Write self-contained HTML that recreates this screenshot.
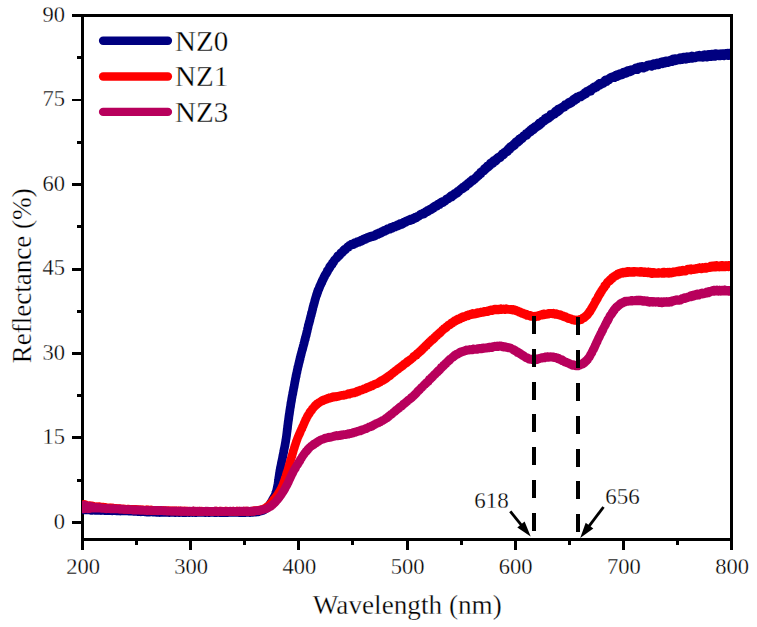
<!DOCTYPE html>
<html lang="en"><head><meta charset="utf-8"><title>Reflectance vs Wavelength</title>
<style>html,body{margin:0;padding:0;background:#fff}svg{display:block}text{font-family:"Liberation Serif","Times New Roman",serif;fill:#000;stroke:#fff;stroke-width:.3px}</style></head><body>
<svg width="757" height="627" viewBox="0 0 757 627">
<rect width="757" height="627" fill="#fff"/>
<g fill="#000" shape-rendering="crispEdges">
<rect x="81" y="14" width="652" height="3"/>
<rect x="81" y="538" width="652" height="3"/>
<rect x="81" y="14" width="3" height="527"/>
<rect x="730" y="14" width="3" height="527"/>
<rect x="72" y="521" width="9" height="3"/>
<rect x="72" y="436" width="9" height="3"/>
<rect x="72" y="352" width="9" height="3"/>
<rect x="72" y="268" width="9" height="3"/>
<rect x="72" y="183" width="9" height="3"/>
<rect x="72" y="99" width="9" height="2"/>
<rect x="72" y="14" width="9" height="3"/>
<rect x="77" y="479" width="4" height="3"/>
<rect x="77" y="394" width="4" height="3"/>
<rect x="77" y="310" width="4" height="3"/>
<rect x="77" y="225" width="4" height="3"/>
<rect x="77" y="141" width="4" height="3"/>
<rect x="77" y="56" width="4" height="3"/>
<rect x="81" y="541" width="3" height="9"/>
<rect x="189" y="541" width="3" height="9"/>
<rect x="297" y="541" width="3" height="9"/>
<rect x="406" y="541" width="3" height="9"/>
<rect x="514" y="541" width="3" height="9"/>
<rect x="622" y="541" width="3" height="9"/>
<rect x="730" y="541" width="3" height="9"/>
<rect x="135" y="541" width="3" height="4"/>
<rect x="243" y="541" width="3" height="4"/>
<rect x="351" y="541" width="3" height="4"/>
<rect x="460" y="541" width="3" height="4"/>
<rect x="568" y="541" width="3" height="4"/>
<rect x="676" y="541" width="3" height="4"/>
</g>
<defs><clipPath id="c"><rect x="82" y="17" width="648" height="521"/></clipPath></defs>
<g clip-path="url(#c)" fill="none" stroke-linejoin="round" stroke-linecap="butt">
<path stroke="#000080" stroke-width="8.7" d="M82.5,509.0 L83.9,510.0 L84.1,508.2 L84.3,510.0 L84.5,508.7 L84.8,508.9 L85.0,509.8 L85.3,509.0 L85.6,509.3 L85.9,508.4 L86.2,509.7 L86.5,509.4 L86.8,509.1 L87.1,509.9 L87.4,509.1 L87.8,509.4 L88.1,509.0 L88.4,509.4 L88.8,509.2 L89.1,509.3 L89.5,509.9 L89.8,509.4 L90.2,509.7 L90.5,510.3 L90.8,510.3 L91.2,510.0 L91.5,509.8 L91.9,509.6 L92.2,509.5 L92.6,510.3 L92.9,509.9 L93.3,509.6 L93.6,510.0 L94.0,510.2 L94.3,510.1 L94.7,510.3 L95.0,509.6 L95.4,510.0 L95.7,510.0 L96.1,509.7 L96.4,510.2 L96.8,510.3 L97.1,510.2 L97.5,510.0 L97.8,510.4 L98.2,510.2 L98.5,510.2 L98.9,510.3 L99.2,510.0 L99.6,510.4 L99.9,510.3 L100.3,510.4 L100.6,510.1 L101.0,510.4 L101.3,510.1 L101.7,510.1 L102.0,510.5 L102.4,510.5 L102.7,510.5 L103.1,510.3 L103.4,510.2 L103.8,510.1 L104.1,510.4 L104.5,510.5 L104.8,510.6 L105.2,510.3 L105.5,510.3 L105.9,510.5 L106.2,510.6 L106.6,510.7 L106.9,510.3 L107.3,510.5 L107.6,510.7 L108.0,510.5 L108.3,510.5 L108.7,510.3 L109.0,510.6 L109.4,510.7 L109.7,510.7 L110.1,510.7 L110.4,510.6 L110.8,510.5 L111.1,510.7 L111.5,510.5 L111.8,510.7 L112.2,510.4 L112.5,510.7 L112.9,510.5 L113.2,510.6 L113.6,510.6 L113.9,510.7 L114.3,510.5 L114.6,510.6 L115.0,510.5 L115.3,510.6 L115.7,510.7 L116.0,510.5 L116.4,510.8 L116.7,510.7 L117.1,510.8 L117.4,510.8 L117.8,510.7 L118.1,510.9 L118.5,510.8 L118.8,510.9 L119.2,510.7 L119.5,510.8 L119.9,510.7 L120.2,511.0 L120.6,510.7 L120.9,510.7 L121.3,510.7 L121.6,510.7 L122.0,510.9 L122.3,510.9 L122.7,510.7 L123.0,510.8 L123.4,510.9 L123.7,511.0 L124.1,510.9 L124.4,510.9 L124.8,511.0 L125.1,511.0 L125.5,510.9 L125.8,510.9 L126.2,510.9 L126.5,510.8 L126.9,510.9 L127.2,510.9 L127.6,510.9 L127.9,510.9 L128.3,511.0 L128.6,511.2 L129.0,511.1 L129.3,511.2 L129.7,511.2 L130.0,511.1 L130.4,511.2 L130.7,511.2 L131.1,511.1 L131.4,511.0 L131.8,511.1 L132.1,511.0 L132.5,511.0 L132.8,511.2 L133.2,511.3 L133.5,511.1 L133.9,511.3 L134.2,511.2 L134.6,511.1 L134.9,511.4 L135.3,511.2 L135.6,511.2 L136.0,511.4 L136.3,511.2 L136.7,511.4 L137.0,511.2 L137.4,511.3 L137.7,511.3 L138.1,511.5 L138.4,511.3 L138.8,511.6 L139.1,511.5 L139.5,511.5 L139.8,511.5 L140.2,511.4 L140.5,511.4 L140.9,511.7 L141.2,511.4 L141.6,511.7 L141.9,511.6 L142.3,511.5 L142.6,511.6 L143.0,511.5 L143.3,511.6 L143.7,511.6 L144.0,511.4 L144.4,511.6 L144.7,511.8 L145.1,511.6 L145.4,511.8 L145.8,511.7 L146.1,511.6 L146.5,511.9 L146.8,511.6 L147.2,511.7 L147.5,512.0 L147.9,511.7 L148.2,511.9 L148.6,511.9 L148.9,512.0 L149.3,511.9 L149.6,511.8 L150.0,512.0 L150.3,511.7 L150.7,511.9 L151.0,511.9 L151.4,511.9 L151.7,511.8 L152.1,511.9 L152.4,512.0 L152.8,512.0 L153.1,512.1 L153.5,512.1 L153.8,512.2 L154.2,512.1 L154.5,512.1 L154.9,512.0 L155.2,512.2 L155.6,512.0 L155.9,512.0 L156.3,512.3 L156.6,512.2 L157.0,512.2 L157.3,512.2 L157.7,512.2 L158.0,512.0 L158.4,512.1 L158.7,512.3 L159.1,512.2 L159.4,512.1 L159.8,512.4 L160.1,512.1 L160.5,512.3 L160.8,512.1 L161.2,512.3 L161.5,512.2 L161.9,512.2 L162.2,512.1 L162.6,512.2 L162.9,512.2 L163.3,512.3 L163.6,512.3 L164.0,512.5 L164.3,512.5 L164.7,512.5 L165.0,512.4 L165.4,512.5 L165.7,512.5 L166.0,512.2 L166.4,512.2 L166.7,512.3 L167.1,512.2 L167.4,512.4 L167.8,512.3 L168.1,512.3 L168.5,512.3 L168.8,512.2 L169.2,512.5 L169.5,512.4 L169.9,512.4 L170.2,512.2 L170.6,512.4 L170.9,512.5 L171.3,512.3 L171.6,512.4 L172.0,512.2 L172.3,512.2 L172.7,512.3 L173.0,512.4 L173.4,512.4 L173.7,512.5 L174.1,512.3 L174.4,512.2 L174.8,512.5 L175.1,512.2 L175.5,512.3 L175.8,512.6 L176.2,512.5 L176.5,512.3 L176.9,512.3 L177.2,512.4 L177.6,512.3 L177.9,512.5 L178.3,512.4 L178.6,512.2 L179.0,512.6 L179.3,512.4 L179.7,512.3 L180.0,512.3 L180.4,512.4 L180.7,512.3 L181.1,512.4 L181.4,512.4 L181.8,512.2 L182.1,512.5 L182.5,512.5 L182.8,512.6 L183.2,512.5 L183.5,512.5 L183.9,512.3 L184.2,512.2 L184.6,512.2 L184.9,512.6 L185.3,512.5 L185.6,512.6 L186.0,512.3 L186.3,512.5 L186.7,512.2 L187.0,512.3 L187.4,512.3 L187.7,512.4 L188.1,512.4 L188.4,512.4 L188.8,512.4 L189.1,512.4 L189.5,512.6 L189.8,512.4 L190.2,512.5 L190.5,512.2 L190.9,512.4 L191.2,512.4 L191.6,512.4 L191.9,512.3 L192.3,512.4 L192.6,512.6 L193.0,512.5 L193.3,512.4 L193.7,512.2 L194.0,512.2 L194.4,512.3 L194.7,512.3 L195.1,512.6 L195.4,512.2 L195.8,512.4 L196.1,512.2 L196.5,512.5 L196.8,512.2 L197.2,512.2 L197.5,512.2 L197.9,512.3 L198.2,512.4 L198.6,512.5 L198.9,512.3 L199.3,512.3 L199.6,512.5 L200.0,512.5 L200.3,512.3 L200.7,512.5 L201.0,512.5 L201.4,512.3 L201.7,512.4 L202.1,512.3 L202.4,512.3 L202.8,512.4 L203.1,512.4 L203.5,512.4 L203.8,512.4 L204.2,512.3 L204.5,512.5 L204.9,512.3 L205.2,512.6 L205.6,512.4 L205.9,512.3 L206.3,512.3 L206.6,512.4 L207.0,512.4 L207.4,512.4 L207.7,512.4 L208.1,512.2 L208.4,512.5 L208.8,512.2 L209.1,512.5 L209.5,512.5 L209.8,512.6 L210.2,512.5 L210.5,512.3 L210.9,512.4 L211.2,512.4 L211.6,512.4 L211.9,512.4 L212.3,512.5 L212.6,512.3 L213.0,512.3 L213.3,512.4 L213.7,512.4 L214.0,512.3 L214.4,512.6 L214.7,512.5 L215.1,512.5 L215.4,512.3 L215.8,512.6 L216.1,512.5 L216.5,512.6 L216.8,512.3 L217.2,512.4 L217.5,512.4 L217.9,512.4 L218.2,512.3 L218.6,512.3 L218.9,512.4 L219.3,512.5 L219.6,512.4 L220.0,512.6 L220.3,512.4 L220.7,512.3 L221.0,512.5 L221.4,512.4 L221.7,512.3 L222.1,512.3 L222.4,512.6 L222.8,512.6 L223.1,512.5 L223.5,512.3 L223.8,512.5 L224.2,512.3 L224.5,512.3 L224.9,512.4 L225.2,512.4 L225.6,512.3 L225.9,512.6 L226.3,512.3 L226.6,512.4 L227.0,512.2 L227.3,512.3 L227.7,512.3 L228.0,512.6 L228.4,512.5 L228.7,512.5 L229.1,512.2 L229.4,512.5 L229.8,512.4 L230.1,512.4 L230.5,512.5 L230.8,512.3 L231.2,512.4 L231.5,512.3 L231.9,512.4 L232.2,512.4 L232.6,512.3 L232.9,512.3 L233.3,512.4 L233.6,512.4 L234.0,512.5 L234.3,512.5 L234.7,512.4 L235.0,512.5 L235.4,512.3 L235.7,512.3 L236.1,512.4 L236.4,512.3 L236.8,512.4 L237.1,512.4 L237.5,512.3 L237.8,512.5 L238.2,512.4 L238.5,512.4 L238.9,512.6 L239.2,512.5 L239.6,512.3 L239.9,512.3 L240.3,512.6 L240.6,512.3 L241.0,512.5 L241.3,512.3 L241.7,512.3 L242.0,512.4 L242.4,512.6 L242.7,512.2 L243.1,512.3 L243.4,512.5 L243.8,512.4 L244.1,512.3 L244.5,512.6 L244.8,512.3 L245.2,512.5 L245.5,512.6 L245.9,512.5 L246.2,512.5 L246.6,512.5 L246.9,512.5 L247.3,512.3 L247.6,512.4 L248.0,512.5 L248.3,512.5 L248.7,512.5 L249.0,512.5 L249.3,512.2 L249.7,512.3 L250.0,512.3 L250.4,512.5 L250.7,512.3 L251.1,512.2 L251.4,512.1 L251.8,512.2 L252.1,512.4 L252.5,512.1 L252.8,512.1 L253.2,512.1 L253.5,512.2 L253.9,512.1 L254.2,512.2 L254.6,512.0 L254.9,512.1 L255.3,512.1 L255.6,512.1 L256.0,512.1 L256.3,511.8 L256.7,512.0 L257.0,511.9 L257.4,511.7 L257.7,511.5 L258.1,511.5 L258.4,511.7 L258.8,511.4 L259.1,511.4 L259.4,511.3 L259.8,511.4 L260.1,511.2 L260.5,511.0 L260.8,511.0 L261.1,510.9 L261.5,511.0 L261.8,510.7 L262.1,510.7 L262.4,510.6 L262.7,510.6 L263.1,510.4 L263.4,510.1 L263.7,510.0 L264.0,509.8 L264.3,509.8 L264.6,509.4 L264.9,509.3 L265.2,509.2 L265.4,508.9 L265.7,508.8 L266.0,508.5 L266.3,508.3 L266.5,508.2 L266.8,507.8 L267.0,507.7 L267.3,507.5 L267.5,507.0 L267.8,506.8 L268.0,506.8 L268.2,506.6 L268.4,506.3 L268.7,505.7 L268.9,505.7 L269.1,505.5 L269.3,505.2 L269.5,504.8 L269.7,504.5 L269.9,504.3 L270.1,503.9 L270.3,503.7 L270.5,503.3 L270.7,502.9 L270.9,502.6 L271.1,502.6 L271.2,502.2 L271.4,501.7 L271.6,501.7 L271.8,501.1 L272.0,501.0 L272.1,500.6 L272.3,500.2 L272.5,499.9 L272.7,499.5 L272.8,499.2 L273.0,498.9 L273.2,498.6 L273.4,498.6 L273.5,498.2 L273.7,497.7 L273.8,497.6 L274.0,497.3 L274.2,496.9 L274.3,496.5 L274.5,496.3 L274.6,496.2 L274.8,495.6 L274.9,495.4 L275.0,495.2 L275.2,494.6 L275.3,494.5 L275.4,494.1 L275.5,493.9 L275.7,493.4 L275.8,493.1 L275.9,492.7 L276.0,492.6 L276.1,492.3 L276.2,491.8 L276.3,491.6 L276.4,491.2 L276.5,490.9 L276.6,490.6 L276.7,490.0 L276.8,490.0 L276.9,489.4 L276.9,489.1 L277.0,488.6 L277.1,488.5 L277.2,488.0 L277.2,487.8 L277.3,487.2 L277.4,486.9 L277.5,486.6 L277.5,486.2 L277.6,485.8 L277.7,485.8 L277.7,485.5 L277.8,484.8 L277.8,484.4 L277.9,484.2 L278.0,483.7 L278.0,483.7 L278.1,483.2 L278.1,482.9 L278.2,482.7 L278.2,482.4 L278.3,482.1 L278.3,481.7 L278.4,481.2 L278.4,480.8 L278.5,480.2 L278.5,479.9 L278.6,479.8 L278.6,479.6 L278.7,479.0 L278.7,478.5 L278.8,478.2 L278.8,478.2 L278.9,477.5 L278.9,477.2 L279.0,476.9 L279.0,476.7 L279.1,476.5 L279.1,475.8 L279.2,475.7 L279.2,475.3 L279.3,474.9 L279.3,474.6 L279.4,474.4 L279.4,473.7 L279.5,473.5 L279.5,473.0 L279.6,472.8 L279.6,472.6 L279.7,472.4 L279.8,471.8 L279.8,471.3 L279.9,471.1 L279.9,470.7 L280.0,470.2 L280.1,470.1 L280.1,469.9 L280.2,469.6 L280.2,469.3 L280.3,468.6 L280.4,468.2 L280.4,467.8 L280.5,467.6 L280.6,467.5 L280.6,466.8 L280.7,466.8 L280.8,466.4 L280.8,465.8 L280.9,465.7 L281.0,465.4 L281.1,465.2 L281.1,464.4 L281.2,464.4 L281.3,464.0 L281.3,463.4 L281.4,463.1 L281.5,463.1 L281.5,462.4 L281.6,462.1 L281.7,462.0 L281.8,461.3 L281.8,461.1 L281.9,460.7 L282.0,460.5 L282.0,460.2 L282.1,459.9 L282.2,459.4 L282.3,459.3 L282.3,458.9 L282.4,458.7 L282.5,458.0 L282.5,457.9 L282.6,457.3 L282.7,456.9 L282.7,456.8 L282.8,456.6 L282.9,456.2 L282.9,455.5 L283.0,455.1 L283.1,455.1 L283.2,454.8 L283.2,454.5 L283.3,453.7 L283.4,453.8 L283.4,453.2 L283.5,452.8 L283.6,452.5 L283.6,452.5 L283.7,452.2 L283.8,451.3 L283.8,451.1 L283.9,451.0 L284.0,450.2 L284.0,449.9 L284.1,449.5 L284.2,449.7 L284.2,449.0 L284.3,448.7 L284.4,448.6 L284.4,448.0 L284.5,447.9 L284.6,447.3 L284.6,446.9 L284.7,446.7 L284.8,446.2 L284.8,445.8 L284.9,445.9 L285.0,445.6 L285.0,445.0 L285.1,444.8 L285.1,444.6 L285.2,443.9 L285.3,443.8 L285.3,443.5 L285.4,442.7 L285.5,442.3 L285.5,442.4 L285.6,442.0 L285.6,441.3 L285.7,441.4 L285.7,441.1 L285.8,440.4 L285.8,440.1 L285.9,439.6 L286.0,439.4 L286.0,438.9 L286.1,438.8 L286.1,438.5 L286.2,438.2 L286.2,437.5 L286.3,437.5 L286.3,437.2 L286.4,436.5 L286.4,436.4 L286.5,436.2 L286.5,435.5 L286.5,435.6 L286.6,435.3 L286.6,434.8 L286.7,434.6 L286.7,433.8 L286.8,433.7 L286.8,433.6 L286.9,432.6 L286.9,432.8 L286.9,432.0 L287.0,432.1 L287.0,431.6 L287.1,431.4 L287.1,430.7 L287.2,430.4 L287.2,430.4 L287.2,429.5 L287.3,429.2 L287.3,429.4 L287.4,429.0 L287.4,428.1 L287.5,428.4 L287.5,427.5 L287.5,427.6 L287.6,427.3 L287.6,426.3 L287.7,425.9 L287.7,425.8 L287.7,425.9 L287.8,425.5 L287.8,424.8 L287.9,424.8 L287.9,424.1 L288.0,423.8 L288.0,423.3 L288.1,423.5 L288.1,423.1 L288.1,422.4 L288.2,421.9 L288.2,422.1 L288.3,421.4 L288.3,420.9 L288.4,420.7 L288.4,420.6 L288.5,420.3 L288.5,419.4 L288.6,419.7 L288.6,419.1 L288.7,418.3 L288.7,418.6 L288.8,418.3 L288.8,417.9 L288.8,416.9 L288.9,416.9 L288.9,416.7 L289.0,416.5 L289.0,415.9 L289.1,415.2 L289.1,415.5 L289.2,415.2 L289.2,414.5 L289.3,413.8 L289.3,414.1 L289.4,413.7 L289.5,413.5 L289.5,412.4 L289.6,412.4 L289.6,411.9 L289.7,411.4 L289.7,411.6 L289.8,410.9 L289.8,410.3 L289.9,410.0 L289.9,410.3 L290.0,409.7 L290.0,409.1 L290.1,409.1 L290.1,408.3 L290.2,408.4 L290.2,408.1 L290.3,407.2 L290.4,407.2 L290.4,407.1 L290.5,406.8 L290.5,406.4 L290.6,406.2 L290.6,405.7 L290.7,405.5 L290.7,404.7 L290.8,404.1 L290.9,403.9 L290.9,403.6 L291.0,403.0 L291.0,402.8 L291.1,402.8 L291.1,402.2 L291.2,401.9 L291.3,401.9 L291.3,401.7 L291.4,401.3 L291.4,400.6 L291.5,400.5 L291.6,400.3 L291.6,399.3 L291.7,399.0 L291.7,399.1 L291.8,398.4 L291.9,398.0 L291.9,397.8 L292.0,397.2 L292.1,397.2 L292.1,396.5 L292.2,396.3 L292.2,395.9 L292.3,395.7 L292.4,395.2 L292.4,395.1 L292.5,395.0 L292.6,394.3 L292.6,394.5 L292.7,394.1 L292.7,393.3 L292.8,392.7 L292.9,393.0 L292.9,392.2 L293.0,391.9 L293.1,391.8 L293.1,391.8 L293.2,390.9 L293.3,390.7 L293.3,390.5 L293.4,390.2 L293.5,389.4 L293.5,389.4 L293.6,389.0 L293.6,388.8 L293.7,387.9 L293.8,387.6 L293.8,388.0 L293.9,387.5 L294.0,387.2 L294.0,387.0 L294.1,386.6 L294.2,385.8 L294.2,385.8 L294.3,385.3 L294.4,384.9 L294.4,384.7 L294.5,384.0 L294.6,384.1 L294.6,383.4 L294.7,382.8 L294.7,382.3 L294.8,382.6 L294.9,381.8 L294.9,382.2 L295.0,381.1 L295.1,380.9 L295.1,381.2 L295.2,380.4 L295.3,380.4 L295.3,379.9 L295.4,379.0 L295.5,378.7 L295.5,378.5 L295.6,378.7 L295.7,377.8 L295.7,377.6 L295.8,377.3 L295.9,376.8 L295.9,376.9 L296.0,375.8 L296.1,375.6 L296.2,375.9 L296.2,375.3 L296.3,374.9 L296.4,374.4 L296.4,373.8 L296.5,373.8 L296.6,374.0 L296.6,373.3 L296.7,372.9 L296.8,373.0 L296.9,372.5 L296.9,372.3 L297.0,371.9 L297.1,371.3 L297.2,370.6 L297.2,370.6 L297.3,369.9 L297.4,370.1 L297.5,369.0 L297.5,369.0 L297.6,369.1 L297.7,368.3 L297.8,368.1 L297.8,367.3 L297.9,367.1 L298.0,367.5 L298.1,366.8 L298.2,366.2 L298.2,366.0 L298.3,365.9 L298.4,365.6 L298.5,365.3 L298.6,364.4 L298.6,364.0 L298.7,364.1 L298.8,363.6 L298.9,363.3 L299.0,362.6 L299.1,362.4 L299.1,362.5 L299.2,361.8 L299.3,361.8 L299.4,360.8 L299.5,361.3 L299.6,360.2 L299.6,360.2 L299.7,360.3 L299.8,359.3 L299.9,358.9 L300.0,359.4 L300.1,358.9 L300.1,358.2 L300.2,357.4 L300.3,357.6 L300.4,356.9 L300.5,356.5 L300.6,356.9 L300.7,356.3 L300.7,355.7 L300.8,355.0 L300.9,355.0 L301.0,355.2 L301.1,354.2 L301.2,353.9 L301.3,353.9 L301.3,353.2 L301.4,353.1 L301.5,353.0 L301.6,352.2 L301.7,352.0 L301.8,351.8 L301.9,351.2 L302.0,350.8 L302.1,350.3 L302.1,350.4 L302.2,350.5 L302.3,349.2 L302.4,349.8 L302.5,349.5 L302.6,348.7 L302.7,348.8 L302.8,348.2 L302.9,347.7 L303.0,347.3 L303.1,347.0 L303.1,346.9 L303.2,346.0 L303.3,346.2 L303.4,345.6 L303.5,345.5 L303.6,345.4 L303.7,344.3 L303.8,344.2 L303.9,343.7 L304.0,343.1 L304.0,343.4 L304.1,343.1 L304.2,343.1 L304.3,342.4 L304.4,341.8 L304.5,342.0 L304.6,340.7 L304.7,340.7 L304.7,340.8 L304.8,339.8 L304.9,339.7 L305.0,339.9 L305.1,339.0 L305.2,338.6 L305.3,339.0 L305.3,337.7 L305.4,338.2 L305.5,337.3 L305.6,336.8 L305.7,336.8 L305.8,336.5 L305.8,336.7 L305.9,336.1 L306.0,335.4 L306.1,335.2 L306.2,334.6 L306.3,335.0 L306.3,334.0 L306.4,334.2 L306.5,333.6 L306.6,333.6 L306.7,332.6 L306.8,332.3 L306.8,331.9 L306.9,332.1 L307.0,331.9 L307.1,331.4 L307.2,330.6 L307.3,330.7 L307.3,330.3 L307.4,329.7 L307.5,329.0 L307.6,328.7 L307.7,328.9 L307.8,328.0 L307.8,328.1 L307.9,328.0 L308.0,327.5 L308.1,327.1 L308.2,326.3 L308.3,325.8 L308.3,325.4 L308.4,325.1 L308.5,324.9 L308.6,325.0 L308.7,324.5 L308.8,323.9 L308.9,323.7 L308.9,323.5 L309.0,323.6 L309.1,323.1 L309.2,322.0 L309.3,322.2 L309.4,321.5 L309.4,322.0 L309.5,321.7 L309.6,320.9 L309.7,320.8 L309.8,320.4 L309.9,320.2 L310.0,319.2 L310.1,318.8 L310.1,319.1 L310.2,319.0 L310.3,317.8 L310.4,317.9 L310.5,317.5 L310.6,317.0 L310.7,317.1 L310.7,316.0 L310.8,315.9 L310.9,315.7 L311.0,316.0 L311.1,315.3 L311.2,315.0 L311.3,315.0 L311.3,313.7 L311.4,313.9 L311.5,312.9 L311.6,312.6 L311.7,313.0 L311.8,312.8 L311.9,312.2 L311.9,311.8 L312.0,311.7 L312.1,311.6 L312.2,311.2 L312.3,310.7 L312.4,309.9 L312.5,310.0 L312.5,309.0 L312.6,309.5 L312.7,308.4 L312.8,308.9 L312.9,307.7 L313.0,307.3 L313.1,307.1 L313.2,306.9 L313.3,306.2 L313.3,306.0 L313.4,306.4 L313.5,306.1 L313.6,304.8 L313.7,304.8 L313.8,304.5 L313.9,304.7 L314.0,304.1 L314.1,303.4 L314.2,303.6 L314.3,303.0 L314.4,302.2 L314.5,302.6 L314.5,301.8 L314.6,302.0 L314.7,301.4 L314.8,300.4 L314.9,300.9 L315.0,300.3 L315.1,299.9 L315.2,299.4 L315.3,299.4 L315.4,298.3 L315.5,298.5 L315.6,298.7 L315.7,297.5 L315.8,297.0 L315.9,297.1 L316.0,296.9 L316.1,296.3 L316.2,296.1 L316.3,296.1 L316.4,295.9 L316.5,294.6 L316.6,294.7 L316.8,294.7 L316.9,293.5 L317.0,294.4 L317.1,293.7 L317.2,293.2 L317.3,292.8 L317.4,292.0 L317.5,291.6 L317.7,292.1 L317.8,292.1 L317.9,291.6 L318.0,290.2 L318.1,289.9 L318.3,290.2 L318.4,290.0 L318.5,289.7 L318.6,289.7 L318.8,289.4 L318.9,289.2 L319.0,288.0 L319.2,287.9 L319.3,288.3 L319.4,287.6 L319.6,286.4 L319.7,287.2 L319.8,286.5 L320.0,285.6 L320.1,285.5 L320.3,285.5 L320.4,285.3 L320.5,284.6 L320.7,284.7 L320.8,284.1 L321.0,284.4 L321.1,283.9 L321.3,282.7 L321.4,282.3 L321.6,283.0 L321.7,282.3 L321.9,282.5 L322.0,281.5 L322.2,280.8 L322.3,280.3 L322.5,281.0 L322.6,279.7 L322.8,280.2 L322.9,279.7 L323.1,279.7 L323.2,279.6 L323.4,278.3 L323.6,278.4 L323.7,278.4 L323.9,277.4 L324.0,276.9 L324.2,276.6 L324.3,277.4 L324.5,276.9 L324.7,275.8 L324.8,275.2 L325.0,275.8 L325.1,275.0 L325.3,274.6 L325.5,274.2 L325.6,274.3 L325.8,273.8 L326.0,274.3 L326.1,273.5 L326.3,273.7 L326.5,273.4 L326.6,273.1 L326.8,272.2 L327.0,272.0 L327.2,271.6 L327.3,270.6 L327.5,271.6 L327.7,270.2 L327.9,270.4 L328.0,270.3 L328.2,270.2 L328.4,269.5 L328.6,269.4 L328.8,269.3 L328.9,268.8 L329.1,268.5 L329.3,268.5 L329.5,267.1 L329.7,267.4 L329.9,266.4 L330.1,266.3 L330.3,265.8 L330.5,266.8 L330.7,265.7 L330.8,265.7 L331.0,265.8 L331.2,265.3 L331.4,265.4 L331.6,264.5 L331.9,264.5 L332.1,264.5 L332.3,263.1 L332.5,263.3 L332.7,262.5 L332.9,262.9 L333.1,262.2 L333.3,262.7 L333.5,261.9 L333.7,261.2 L333.9,261.9 L334.1,261.0 L334.4,260.1 L334.6,260.2 L334.8,260.1 L335.0,259.3 L335.2,259.2 L335.5,259.2 L335.7,259.0 L335.9,258.8 L336.1,258.4 L336.3,258.1 L336.6,258.1 L336.8,257.6 L337.0,258.0 L337.2,257.7 L337.5,256.3 L337.7,256.3 L337.9,255.9 L338.2,256.0 L338.4,255.8 L338.6,256.1 L338.9,255.8 L339.1,255.8 L339.3,255.2 L339.6,254.9 L339.8,255.2 L340.1,254.4 L340.3,253.8 L340.5,253.4 L340.8,252.7 L341.0,253.9 L341.3,253.3 L341.5,252.5 L341.8,253.0 L342.0,252.6 L342.3,251.9 L342.5,252.4 L342.8,252.1 L343.0,251.2 L343.3,250.9 L343.6,250.2 L343.8,249.9 L344.1,250.1 L344.3,249.6 L344.6,249.2 L344.9,249.9 L345.1,250.0 L345.4,249.4 L345.7,249.5 L345.9,249.2 L346.2,248.7 L346.5,248.2 L346.7,247.8 L347.0,247.8 L347.3,247.3 L347.6,246.8 L347.8,247.1 L348.1,247.2 L348.4,246.8 L348.7,246.9 L349.0,246.1 L349.3,245.4 L349.6,245.5 L349.8,245.4 L350.1,245.7 L350.4,245.2 L350.7,245.5 L351.0,244.6 L351.3,244.8 L351.6,244.0 L351.9,244.9 L352.3,245.0 L352.6,244.8 L352.9,244.7 L353.2,243.5 L353.5,244.6 L353.8,243.8 L354.2,243.1 L354.5,242.8 L354.8,242.6 L355.1,243.4 L355.4,243.2 L355.8,243.3 L356.1,243.0 L356.4,242.7 L356.7,242.0 L357.1,242.7 L357.4,241.5 L357.7,242.4 L358.1,241.5 L358.4,241.3 L358.7,242.4 L359.0,242.3 L359.4,241.8 L359.7,240.9 L360.0,241.2 L360.3,240.8 L360.7,240.3 L361.0,240.4 L361.3,240.0 L361.6,241.3 L362.0,240.0 L362.3,240.1 L362.6,239.7 L362.9,240.2 L363.2,239.9 L363.6,240.1 L363.9,238.8 L364.2,239.0 L364.5,239.4 L364.9,239.3 L365.2,239.5 L365.5,238.2 L365.8,238.5 L366.1,238.4 L366.5,238.5 L366.8,238.1 L367.1,238.6 L367.4,237.4 L367.8,237.2 L368.1,237.5 L368.4,237.0 L368.7,237.4 L369.1,237.5 L369.4,236.6 L369.7,237.1 L370.0,237.1 L370.4,237.0 L370.7,236.0 L371.0,237.1 L371.3,236.9 L371.7,236.1 L372.0,236.2 L372.3,236.5 L372.7,236.6 L373.0,235.5 L373.3,236.2 L373.6,235.5 L374.0,236.3 L374.3,236.0 L374.6,235.1 L374.9,234.9 L375.3,235.0 L375.6,235.6 L375.9,234.2 L376.2,234.7 L376.6,234.7 L376.9,234.7 L377.2,233.5 L377.5,234.2 L377.8,233.8 L378.2,233.5 L378.5,234.4 L378.8,232.9 L379.1,233.7 L379.4,232.7 L379.7,233.8 L380.1,232.9 L380.4,232.7 L380.7,232.2 L381.0,232.5 L381.3,232.9 L381.7,231.5 L382.0,232.3 L382.3,231.3 L382.6,231.3 L382.9,232.2 L383.2,230.8 L383.6,231.7 L383.9,230.4 L384.2,231.0 L384.5,231.1 L384.8,230.1 L385.2,231.1 L385.5,230.0 L385.8,230.2 L386.1,229.7 L386.4,230.4 L386.7,229.5 L387.1,229.3 L387.4,228.8 L387.7,230.1 L388.0,228.5 L388.4,228.9 L388.7,229.3 L389.0,228.6 L389.3,228.9 L389.6,228.4 L390.0,229.1 L390.3,227.8 L390.6,227.4 L390.9,227.4 L391.3,228.0 L391.6,227.9 L391.9,228.2 L392.2,228.3 L392.5,227.2 L392.9,227.8 L393.2,227.0 L393.5,226.8 L393.8,226.3 L394.2,227.3 L394.5,226.3 L394.8,226.7 L395.1,226.3 L395.5,227.0 L395.8,225.7 L396.1,226.0 L396.4,226.3 L396.8,225.1 L397.1,226.0 L397.4,225.5 L397.7,224.6 L398.0,225.9 L398.4,224.8 L398.7,224.8 L399.0,225.2 L399.3,225.3 L399.7,224.0 L400.0,223.7 L400.3,224.6 L400.6,224.3 L401.0,223.8 L401.3,224.0 L401.6,224.4 L401.9,224.0 L402.2,223.5 L402.6,223.9 L402.9,223.8 L403.2,223.4 L403.5,222.2 L403.9,222.8 L404.2,222.7 L404.5,223.0 L404.8,222.3 L405.1,222.3 L405.5,222.3 L405.8,221.2 L406.1,221.0 L406.4,220.8 L406.8,220.8 L407.1,220.9 L407.4,220.4 L407.7,221.2 L408.0,221.0 L408.4,220.7 L408.7,219.8 L409.0,220.5 L409.3,219.7 L409.7,219.4 L410.0,220.5 L410.3,220.6 L410.6,219.1 L410.9,219.9 L411.3,218.8 L411.6,219.5 L411.9,219.4 L412.2,219.2 L412.5,219.7 L412.9,219.0 L413.2,218.1 L413.5,219.2 L413.8,218.0 L414.1,218.3 L414.5,218.0 L414.8,218.4 L415.1,217.1 L415.4,217.4 L415.7,217.4 L416.0,217.5 L416.3,217.8 L416.7,216.7 L417.0,216.6 L417.3,217.0 L417.6,216.1 L417.9,216.4 L418.2,215.9 L418.5,216.3 L418.8,216.1 L419.2,216.1 L419.5,215.5 L419.8,215.0 L420.1,214.5 L420.4,215.3 L420.7,214.5 L421.0,214.0 L421.3,214.4 L421.6,214.1 L421.9,214.6 L422.2,213.8 L422.6,213.7 L422.9,214.2 L423.2,213.9 L423.5,212.9 L423.8,213.4 L424.1,213.8 L424.4,213.6 L424.7,213.4 L425.0,212.2 L425.3,213.2 L425.6,211.7 L425.9,211.9 L426.2,211.2 L426.5,211.8 L426.8,211.9 L427.1,211.7 L427.4,210.4 L427.7,211.8 L428.0,210.5 L428.3,211.1 L428.6,211.2 L428.9,210.8 L429.2,210.2 L429.5,210.0 L429.8,209.2 L430.1,209.4 L430.4,210.0 L430.7,209.5 L431.0,209.3 L431.3,209.2 L431.6,208.4 L431.9,209.3 L432.2,208.0 L432.5,207.6 L432.8,208.3 L433.1,207.2 L433.4,208.4 L433.7,207.6 L434.0,206.6 L434.3,206.3 L434.7,207.1 L435.0,205.9 L435.3,205.8 L435.6,206.2 L435.9,206.1 L436.2,206.6 L436.5,205.2 L436.8,206.3 L437.1,205.3 L437.4,205.9 L437.7,204.5 L438.0,204.1 L438.3,204.6 L438.6,204.1 L438.8,204.3 L439.1,204.7 L439.4,204.7 L439.7,203.1 L440.0,203.2 L440.3,203.1 L440.6,202.7 L440.9,203.0 L441.2,202.1 L441.5,202.2 L441.8,201.8 L442.1,202.3 L442.4,202.9 L442.7,201.4 L443.0,202.5 L443.3,201.3 L443.6,201.9 L443.9,201.8 L444.2,201.2 L444.5,201.2 L444.8,200.9 L445.1,201.2 L445.4,200.8 L445.7,200.0 L446.0,199.5 L446.3,199.1 L446.6,199.6 L446.9,198.9 L447.2,198.7 L447.4,199.6 L447.7,199.1 L448.0,198.7 L448.3,199.0 L448.6,198.2 L448.9,197.8 L449.2,198.1 L449.5,197.8 L449.8,196.9 L450.1,196.9 L450.4,197.1 L450.7,196.3 L450.9,197.4 L451.2,195.6 L451.5,196.9 L451.8,196.9 L452.1,196.1 L452.4,195.1 L452.7,196.0 L453.0,195.2 L453.3,195.4 L453.5,194.5 L453.8,194.2 L454.1,195.3 L454.4,193.5 L454.7,193.3 L455.0,194.4 L455.3,194.2 L455.5,193.1 L455.8,193.0 L456.1,193.4 L456.4,193.0 L456.7,192.9 L457.0,192.3 L457.3,193.1 L457.5,191.4 L457.8,192.1 L458.1,191.1 L458.4,191.1 L458.7,190.8 L459.0,191.6 L459.2,190.9 L459.5,190.3 L459.8,190.4 L460.1,190.1 L460.4,190.0 L460.6,189.3 L460.9,189.3 L461.2,189.2 L461.5,188.3 L461.8,188.0 L462.0,188.9 L462.3,187.9 L462.6,188.8 L462.9,187.2 L463.2,187.3 L463.4,187.9 L463.7,186.7 L464.0,187.1 L464.3,186.6 L464.5,186.3 L464.8,186.1 L465.1,187.2 L465.4,185.8 L465.6,185.2 L465.9,186.5 L466.2,184.8 L466.5,185.7 L466.7,185.3 L467.0,185.2 L467.3,185.1 L467.6,183.8 L467.8,183.3 L468.1,183.8 L468.4,183.6 L468.6,183.0 L468.9,183.9 L469.2,182.3 L469.5,182.8 L469.7,182.7 L470.0,181.5 L470.3,182.8 L470.5,181.7 L470.8,181.6 L471.1,180.8 L471.3,181.1 L471.6,181.0 L471.9,181.0 L472.1,179.7 L472.4,180.2 L472.7,180.1 L472.9,180.8 L473.2,179.9 L473.5,179.8 L473.7,179.1 L474.0,179.0 L474.3,179.7 L474.5,178.4 L474.8,179.3 L475.1,178.3 L475.3,178.7 L475.6,177.8 L475.8,178.0 L476.1,177.8 L476.4,176.7 L476.6,176.4 L476.9,177.3 L477.2,175.9 L477.4,176.6 L477.7,175.1 L477.9,175.5 L478.2,175.1 L478.5,174.6 L478.7,174.3 L479.0,175.5 L479.3,174.7 L479.5,174.1 L479.8,174.1 L480.0,174.4 L480.3,173.8 L480.6,172.4 L480.8,172.4 L481.1,173.5 L481.3,172.6 L481.6,172.5 L481.9,171.3 L482.1,171.1 L482.4,171.0 L482.6,171.0 L482.9,171.2 L483.2,170.6 L483.4,171.0 L483.7,170.2 L483.9,170.2 L484.2,170.8 L484.4,168.7 L484.7,169.7 L485.0,169.7 L485.2,168.3 L485.5,169.5 L485.7,167.7 L486.0,168.9 L486.2,167.4 L486.5,167.6 L486.8,167.3 L487.0,167.5 L487.3,167.3 L487.5,165.8 L487.8,167.3 L488.1,166.4 L488.3,167.0 L488.6,165.2 L488.8,165.5 L489.1,166.4 L489.4,165.5 L489.6,165.0 L489.9,164.7 L490.2,165.4 L490.4,163.2 L490.7,165.1 L491.0,163.8 L491.2,164.3 L491.5,163.4 L491.8,163.9 L492.1,162.1 L492.3,162.6 L492.6,163.1 L492.9,163.4 L493.2,162.1 L493.4,160.9 L493.7,162.2 L494.0,161.8 L494.3,160.4 L494.5,160.4 L494.8,160.8 L495.1,159.8 L495.4,161.3 L495.6,161.3 L495.9,160.5 L496.2,160.5 L496.5,159.1 L496.8,158.4 L497.0,159.6 L497.3,159.6 L497.6,159.1 L497.9,157.7 L498.1,157.2 L498.4,158.2 L498.7,157.0 L499.0,157.1 L499.2,157.3 L499.5,156.6 L499.8,157.9 L500.1,156.3 L500.3,156.7 L500.6,157.4 L500.9,156.5 L501.2,155.6 L501.4,156.2 L501.7,154.7 L502.0,154.3 L502.2,153.9 L502.5,155.1 L502.8,154.9 L503.0,154.7 L503.3,154.5 L503.6,154.0 L503.9,154.7 L504.1,153.3 L504.4,152.3 L504.6,152.3 L504.9,152.5 L505.2,152.7 L505.4,151.9 L505.7,151.9 L506.0,151.3 L506.2,152.1 L506.5,152.2 L506.8,150.7 L507.0,151.6 L507.3,149.9 L507.5,151.5 L507.8,149.8 L508.1,150.3 L508.3,149.9 L508.6,148.4 L508.8,149.4 L509.1,147.9 L509.4,148.7 L509.6,148.6 L509.9,149.4 L510.1,147.3 L510.4,146.7 L510.7,147.9 L510.9,146.9 L511.2,147.2 L511.4,146.3 L511.7,147.1 L512.0,145.5 L512.2,146.2 L512.5,146.6 L512.8,146.7 L513.0,145.1 L513.3,145.4 L513.5,146.2 L513.8,143.9 L514.1,145.4 L514.3,144.9 L514.6,145.3 L514.9,143.8 L515.1,143.5 L515.4,143.5 L515.6,142.8 L515.9,141.8 L516.2,142.9 L516.4,142.2 L516.7,142.3 L517.0,142.5 L517.2,141.5 L517.5,140.7 L517.8,142.2 L518.0,142.3 L518.3,140.2 L518.6,141.0 L518.8,140.1 L519.1,140.7 L519.4,138.9 L519.6,140.9 L519.9,140.5 L520.2,138.4 L520.5,139.5 L520.7,138.5 L521.0,137.9 L521.3,139.3 L521.5,138.9 L521.8,138.2 L522.1,138.1 L522.4,138.5 L522.6,136.9 L522.9,137.1 L523.2,136.2 L523.4,136.6 L523.7,135.6 L524.0,135.8 L524.3,136.4 L524.5,135.2 L524.8,136.0 L525.1,136.1 L525.4,135.5 L525.6,134.9 L525.9,134.4 L526.2,133.4 L526.5,135.0 L526.7,135.3 L527.0,133.2 L527.3,134.1 L527.5,133.7 L527.8,134.0 L528.1,133.5 L528.4,132.0 L528.6,131.6 L528.9,131.9 L529.2,131.3 L529.5,132.2 L529.7,130.6 L530.0,131.9 L530.3,132.0 L530.6,129.8 L530.9,131.8 L531.1,131.4 L531.4,129.2 L531.7,130.3 L532.0,128.7 L532.2,129.7 L532.5,128.4 L532.8,129.5 L533.1,128.0 L533.3,127.8 L533.6,129.9 L533.9,129.3 L534.2,128.7 L534.4,128.8 L534.7,127.0 L535.0,126.5 L535.3,126.9 L535.5,127.8 L535.8,127.6 L536.1,127.3 L536.4,126.3 L536.6,126.3 L536.9,126.7 L537.2,126.1 L537.5,124.9 L537.7,125.3 L538.0,126.3 L538.3,126.2 L538.6,123.6 L538.8,123.5 L539.1,123.2 L539.4,124.1 L539.7,125.0 L539.9,123.7 L540.2,123.0 L540.5,124.3 L540.8,122.4 L541.1,123.0 L541.3,123.6 L541.6,123.4 L541.9,121.2 L542.2,121.5 L542.4,121.5 L542.7,122.3 L543.0,121.8 L543.3,121.2 L543.5,120.6 L543.8,120.1 L544.1,120.7 L544.4,121.1 L544.7,119.7 L544.9,119.3 L545.2,118.3 L545.5,118.4 L545.8,118.2 L546.1,118.8 L546.3,119.5 L546.6,118.3 L546.9,117.4 L547.2,117.3 L547.5,119.1 L547.7,118.1 L548.0,117.0 L548.3,118.2 L548.6,118.3 L548.9,117.0 L549.2,116.6 L549.4,116.2 L549.7,116.0 L550.0,117.0 L550.3,116.4 L550.6,116.8 L550.9,114.3 L551.1,114.3 L551.4,115.1 L551.7,115.1 L552.0,114.5 L552.3,114.5 L552.6,115.3 L552.9,114.2 L553.1,113.3 L553.4,113.7 L553.7,113.0 L554.0,113.6 L554.3,113.3 L554.6,113.4 L554.9,113.9 L555.1,112.5 L555.4,111.1 L555.7,112.1 L556.0,111.9 L556.3,112.4 L556.6,112.6 L556.9,110.4 L557.2,112.1 L557.5,110.1 L557.8,110.9 L558.0,109.2 L558.3,111.2 L558.6,109.9 L558.9,109.2 L559.2,110.8 L559.5,108.5 L559.8,108.9 L560.1,109.0 L560.4,108.3 L560.7,108.4 L560.9,109.4 L561.2,107.6 L561.5,108.3 L561.8,107.2 L562.1,108.1 L562.4,107.0 L562.7,106.9 L563.0,107.3 L563.3,106.4 L563.6,107.4 L563.9,105.9 L564.2,107.3 L564.4,106.7 L564.7,105.1 L565.0,105.9 L565.3,104.6 L565.6,104.6 L565.9,104.8 L566.2,105.6 L566.5,105.2 L566.8,104.8 L567.1,103.7 L567.4,103.8 L567.7,104.6 L568.0,103.9 L568.3,103.3 L568.6,102.5 L568.8,102.2 L569.1,104.2 L569.4,102.8 L569.7,103.8 L570.0,102.0 L570.3,102.6 L570.6,101.6 L570.9,103.0 L571.2,101.2 L571.5,101.8 L571.8,102.6 L572.1,101.8 L572.4,101.2 L572.7,100.6 L573.0,100.8 L573.3,99.3 L573.6,99.5 L573.9,99.6 L574.2,98.9 L574.5,99.2 L574.8,99.4 L575.1,100.3 L575.3,100.2 L575.6,97.9 L575.9,98.8 L576.2,99.1 L576.5,99.1 L576.8,97.5 L577.1,96.9 L577.4,97.3 L577.7,97.3 L578.0,96.8 L578.3,96.7 L578.6,97.6 L578.9,96.4 L579.2,96.1 L579.5,96.1 L579.8,96.4 L580.1,95.6 L580.4,96.1 L580.7,97.0 L581.0,96.5 L581.3,96.2 L581.6,96.5 L581.9,96.2 L582.2,95.2 L582.5,95.3 L582.8,94.4 L583.1,94.6 L583.4,95.3 L583.7,94.2 L584.0,93.8 L584.4,94.2 L584.7,93.6 L585.0,92.5 L585.3,93.0 L585.6,92.3 L585.9,93.9 L586.2,93.4 L586.5,92.5 L586.8,91.4 L587.1,91.4 L587.4,91.5 L587.7,92.0 L588.0,90.8 L588.3,91.2 L588.6,90.6 L588.9,90.3 L589.2,90.1 L589.5,90.0 L589.8,91.4 L590.1,89.7 L590.4,89.4 L590.7,90.9 L591.0,91.0 L591.3,90.3 L591.6,88.6 L591.9,88.5 L592.2,88.4 L592.5,88.1 L592.8,88.8 L593.1,87.6 L593.4,89.1 L593.7,88.0 L593.9,87.3 L594.2,86.9 L594.5,87.8 L594.8,88.1 L595.1,87.5 L595.4,86.5 L595.7,87.6 L596.0,86.7 L596.3,86.7 L596.6,87.3 L596.9,86.5 L597.2,85.1 L597.5,86.2 L597.8,85.1 L598.1,86.0 L598.4,85.3 L598.7,85.1 L598.9,84.0 L599.2,83.5 L599.5,85.5 L599.8,83.2 L600.1,83.1 L600.4,83.8 L600.7,84.7 L601.0,83.7 L601.3,84.5 L601.6,83.7 L601.9,83.8 L602.3,83.6 L602.6,83.7 L602.9,83.6 L603.2,82.0 L603.5,82.7 L603.8,82.0 L604.1,82.9 L604.4,81.9 L604.7,81.3 L605.0,80.3 L605.3,81.7 L605.6,79.9 L605.9,81.2 L606.2,80.2 L606.6,80.9 L606.9,81.5 L607.2,79.9 L607.5,80.2 L607.8,80.0 L608.1,79.0 L608.4,80.1 L608.8,79.9 L609.1,79.9 L609.4,78.5 L609.7,78.0 L610.0,78.6 L610.3,77.8 L610.6,78.0 L611.0,77.3 L611.3,78.0 L611.6,77.7 L611.9,77.5 L612.2,77.5 L612.5,76.6 L612.9,77.3 L613.2,77.7 L613.5,76.8 L613.8,77.2 L614.1,77.6 L614.5,76.8 L614.8,77.6 L615.1,77.1 L615.4,76.5 L615.7,75.2 L616.1,76.0 L616.4,74.9 L616.7,76.8 L617.0,74.6 L617.4,74.8 L617.7,74.7 L618.0,76.1 L618.3,76.1 L618.6,75.5 L619.0,75.7 L619.3,74.2 L619.6,75.5 L619.9,73.5 L620.3,73.9 L620.6,75.0 L620.9,74.5 L621.2,74.9 L621.6,74.6 L621.9,73.0 L622.2,73.4 L622.6,74.6 L622.9,73.8 L623.2,73.9 L623.5,72.1 L623.9,74.0 L624.2,72.9 L624.5,71.9 L624.9,72.8 L625.2,73.4 L625.5,72.5 L625.8,73.4 L626.2,73.1 L626.5,72.0 L626.8,73.0 L627.2,72.4 L627.5,71.1 L627.8,70.6 L628.2,70.3 L628.5,71.4 L628.8,71.8 L629.2,70.2 L629.5,70.3 L629.8,72.0 L630.2,71.5 L630.5,70.2 L630.8,71.6 L631.2,70.4 L631.5,69.8 L631.8,69.9 L632.2,69.6 L632.5,70.5 L632.8,69.6 L633.2,70.0 L633.5,70.0 L633.8,69.6 L634.2,69.4 L634.5,69.1 L634.8,68.7 L635.2,68.3 L635.5,69.6 L635.8,67.9 L636.2,69.5 L636.5,69.5 L636.9,69.5 L637.2,69.0 L637.5,69.7 L637.9,68.2 L638.2,68.3 L638.5,67.8 L638.9,67.0 L639.2,68.0 L639.6,68.0 L639.9,67.9 L640.2,66.7 L640.6,67.0 L640.9,67.1 L641.3,67.4 L641.6,66.8 L641.9,67.1 L642.3,66.8 L642.6,66.3 L643.0,68.1 L643.3,67.4 L643.6,68.2 L644.0,67.2 L644.3,67.1 L644.7,66.4 L645.0,67.5 L645.3,66.5 L645.7,67.3 L646.0,66.4 L646.4,67.0 L646.7,66.7 L647.0,66.0 L647.4,65.1 L647.7,65.4 L648.1,65.8 L648.4,65.8 L648.8,65.1 L649.1,65.2 L649.4,65.2 L649.8,65.7 L650.1,64.5 L650.5,65.2 L650.8,65.8 L651.1,66.1 L651.5,65.3 L651.8,66.3 L652.2,65.7 L652.5,65.7 L652.9,64.0 L653.2,64.9 L653.5,63.6 L653.9,65.1 L654.2,64.2 L654.6,65.5 L654.9,63.6 L655.3,63.4 L655.6,64.1 L655.9,63.4 L656.3,64.3 L656.6,64.0 L657.0,62.9 L657.3,63.3 L657.7,63.0 L658.0,63.0 L658.3,65.0 L658.7,63.9 L659.0,64.3 L659.4,63.3 L659.7,62.7 L660.0,63.0 L660.4,63.8 L660.7,63.0 L661.1,61.9 L661.4,63.2 L661.8,63.0 L662.1,63.4 L662.4,61.6 L662.8,63.8 L663.1,62.6 L663.5,62.2 L663.8,62.0 L664.1,63.3 L664.5,61.7 L664.8,61.7 L665.1,63.2 L665.5,62.0 L665.8,60.8 L666.2,60.9 L666.5,62.5 L666.8,61.3 L667.2,61.1 L667.5,61.0 L667.9,62.7 L668.2,61.3 L668.5,62.3 L668.9,61.9 L669.2,61.8 L669.5,61.7 L669.9,60.4 L670.2,61.7 L670.6,60.7 L670.9,59.8 L671.2,59.9 L671.6,60.6 L671.9,60.4 L672.3,61.6 L672.6,60.6 L672.9,60.5 L673.3,58.9 L673.6,58.9 L674.0,59.4 L674.3,59.7 L674.7,60.9 L675.0,58.5 L675.3,60.2 L675.7,59.9 L676.0,58.8 L676.4,60.6 L676.7,59.1 L677.1,60.2 L677.4,58.6 L677.7,59.4 L678.1,59.9 L678.4,60.0 L678.8,58.6 L679.1,58.2 L679.5,59.3 L679.8,59.2 L680.2,57.6 L680.5,59.0 L680.8,59.8 L681.2,57.9 L681.5,58.9 L681.9,59.6 L682.2,58.1 L682.6,59.3 L682.9,59.4 L683.3,57.1 L683.6,57.7 L684.0,57.5 L684.3,59.2 L684.7,58.4 L685.0,57.0 L685.3,57.7 L685.7,57.3 L686.0,59.3 L686.4,58.9 L686.7,58.8 L687.1,56.7 L687.4,57.4 L687.8,57.5 L688.1,57.2 L688.5,58.7 L688.8,57.5 L689.2,58.3 L689.5,57.7 L689.9,57.2 L690.2,56.3 L690.6,58.4 L690.9,57.3 L691.3,56.2 L691.6,57.2 L692.0,56.0 L692.3,56.7 L692.7,58.3 L693.0,56.7 L693.4,56.7 L693.7,56.6 L694.0,57.3 L694.4,57.0 L694.7,56.7 L695.1,57.9 L695.4,56.8 L695.8,57.8 L696.1,56.6 L696.5,56.4 L696.8,55.9 L697.2,55.6 L697.5,56.9 L697.9,56.3 L698.2,55.7 L698.6,56.7 L698.9,57.2 L699.3,56.9 L699.6,55.2 L700.0,56.1 L700.3,56.9 L700.7,56.1 L701.0,56.2 L701.4,57.2 L701.7,55.3 L702.1,55.3 L702.4,57.0 L702.8,57.4 L703.1,55.2 L703.5,54.9 L703.8,57.0 L704.1,56.2 L704.5,55.3 L704.8,54.7 L705.2,56.1 L705.5,54.9 L705.9,57.0 L706.2,57.0 L706.6,56.5 L706.9,57.2 L707.3,55.2 L707.6,54.6 L708.0,56.1 L708.3,54.9 L708.7,56.2 L709.0,54.4 L709.4,55.1 L709.7,56.0 L710.1,56.7 L710.4,54.3 L710.8,55.3 L711.1,56.7 L711.5,54.1 L711.8,55.2 L712.2,56.0 L712.5,55.2 L712.9,56.3 L713.2,54.9 L713.6,54.6 L713.9,53.8 L714.3,55.1 L714.6,56.5 L715.0,56.3 L715.3,53.6 L715.7,53.7 L716.0,53.7 L716.4,56.0 L716.7,54.5 L717.0,54.3 L717.4,55.6 L717.7,54.4 L718.1,54.5 L718.4,55.4 L718.8,55.9 L719.1,53.8 L719.5,53.9 L719.8,53.8 L720.2,56.0 L720.5,54.9 L720.9,55.6 L721.2,53.7 L721.6,55.7 L721.9,54.0 L722.3,54.9 L722.6,53.7 L723.0,54.6 L723.3,55.3 L723.7,53.6 L724.0,55.9 L724.4,55.5 L724.7,55.1 L725.1,55.2 L725.4,53.8 L725.8,53.3 L726.1,53.9 L726.4,53.3 L726.8,53.9 L727.1,55.2 L727.4,53.4 L727.7,53.1 L728.0,55.3 L728.3,55.7 L728.6,54.1 L728.9,53.5 L729.1,55.5 L729.4,53.0 L729.6,53.9 L729.9,55.2 L730.1,55.0 L730.2,55.1 L731.5,54.3"/>
<path stroke="#ff0000" stroke-width="8.5" d="M82.5,504.8 L83.5,505.1 L83.7,507.4 L83.9,504.3 L84.2,506.5 L84.5,507.0 L84.7,504.9 L85.1,504.4 L85.4,505.3 L85.7,506.7 L86.0,506.3 L86.4,505.0 L86.7,506.0 L87.1,506.7 L87.4,506.0 L87.7,506.6 L88.1,507.4 L88.4,506.7 L88.8,506.0 L89.1,505.6 L89.5,506.0 L89.8,506.3 L90.2,507.1 L90.5,506.9 L90.9,506.0 L91.2,507.1 L91.6,506.4 L91.9,506.7 L92.3,505.8 L92.6,505.9 L93.0,506.0 L93.3,507.0 L93.7,506.8 L94.0,507.0 L94.4,506.8 L94.7,506.5 L95.1,506.6 L95.4,506.7 L95.8,507.1 L96.1,506.6 L96.5,507.1 L96.8,506.9 L97.2,507.1 L97.5,506.8 L97.9,507.0 L98.2,506.7 L98.6,506.9 L98.9,506.7 L99.3,506.6 L99.6,506.6 L100.0,507.2 L100.3,507.0 L100.7,507.4 L101.0,507.3 L101.4,507.0 L101.7,507.5 L102.1,507.3 L102.4,507.4 L102.8,507.2 L103.1,507.1 L103.5,507.1 L103.8,507.2 L104.1,507.5 L104.5,507.2 L104.8,507.2 L105.2,507.7 L105.5,507.3 L105.9,507.6 L106.2,507.6 L106.6,507.7 L106.9,507.7 L107.3,508.0 L107.6,507.9 L108.0,507.8 L108.3,507.9 L108.7,507.9 L109.0,508.1 L109.4,507.8 L109.7,508.1 L110.1,508.0 L110.4,507.8 L110.8,508.0 L111.1,508.3 L111.5,508.3 L111.8,508.0 L112.2,508.1 L112.5,508.0 L112.9,508.4 L113.2,508.1 L113.6,508.1 L113.9,508.6 L114.3,508.4 L114.6,508.3 L115.0,508.2 L115.3,508.4 L115.6,508.4 L116.0,508.5 L116.3,508.3 L116.7,508.4 L117.0,508.5 L117.4,508.6 L117.7,508.6 L118.1,508.7 L118.4,508.6 L118.8,508.9 L119.1,508.9 L119.5,508.6 L119.8,508.7 L120.2,508.8 L120.5,508.9 L120.9,508.7 L121.2,508.7 L121.6,508.9 L121.9,509.0 L122.3,509.1 L122.6,509.1 L123.0,509.1 L123.3,508.8 L123.7,509.2 L124.0,509.0 L124.4,508.9 L124.7,508.9 L125.1,509.1 L125.4,509.0 L125.8,509.1 L126.1,509.2 L126.5,509.3 L126.8,509.2 L127.2,509.3 L127.5,509.1 L127.9,509.4 L128.2,509.3 L128.6,509.4 L128.9,509.1 L129.3,509.4 L129.6,509.3 L130.0,509.4 L130.3,509.2 L130.7,509.3 L131.0,509.3 L131.4,509.2 L131.7,509.2 L132.1,509.5 L132.4,509.5 L132.8,509.3 L133.1,509.3 L133.5,509.4 L133.8,509.6 L134.2,509.3 L134.5,509.7 L134.9,509.7 L135.2,509.4 L135.6,509.6 L135.9,509.5 L136.3,509.6 L136.6,509.4 L137.0,509.6 L137.3,509.6 L137.7,509.7 L138.0,509.7 L138.4,509.8 L138.7,509.6 L139.1,509.6 L139.4,509.7 L139.8,509.7 L140.1,509.9 L140.5,509.8 L140.8,509.9 L141.2,510.0 L141.5,509.7 L141.9,509.7 L142.2,509.8 L142.6,509.8 L142.9,509.9 L143.3,510.0 L143.6,509.8 L144.0,509.9 L144.3,510.0 L144.7,509.9 L145.0,510.1 L145.4,510.0 L145.7,510.1 L146.1,509.8 L146.4,509.9 L146.8,509.8 L147.1,510.2 L147.5,510.2 L147.8,509.9 L148.2,510.2 L148.5,510.2 L148.9,510.3 L149.2,510.0 L149.6,510.2 L149.9,510.0 L150.3,510.0 L150.6,510.3 L151.0,510.0 L151.3,510.3 L151.7,510.1 L152.0,510.2 L152.4,510.4 L152.7,510.2 L153.1,510.3 L153.4,510.2 L153.8,510.2 L154.1,510.3 L154.5,510.2 L154.8,510.4 L155.2,510.4 L155.5,510.3 L155.9,510.5 L156.2,510.3 L156.6,510.5 L156.9,510.5 L157.3,510.3 L157.6,510.2 L158.0,510.6 L158.3,510.6 L158.7,510.3 L159.0,510.4 L159.4,510.5 L159.7,510.5 L160.1,510.7 L160.4,510.7 L160.8,510.7 L161.1,510.5 L161.5,510.6 L161.8,510.5 L162.2,510.5 L162.5,510.4 L162.9,510.5 L163.2,510.6 L163.6,510.5 L163.9,510.5 L164.3,510.5 L164.6,510.7 L165.0,510.7 L165.3,510.6 L165.6,510.7 L166.0,510.7 L166.3,510.8 L166.7,510.9 L167.0,510.7 L167.4,510.8 L167.7,510.6 L168.1,510.9 L168.4,510.8 L168.8,510.6 L169.1,510.7 L169.5,510.7 L169.8,510.7 L170.2,510.7 L170.5,510.9 L170.9,510.8 L171.2,510.7 L171.6,510.8 L171.9,510.8 L172.3,510.9 L172.6,510.7 L173.0,510.8 L173.3,510.8 L173.7,510.8 L174.0,511.0 L174.4,510.8 L174.7,510.8 L175.1,510.8 L175.4,511.0 L175.8,510.9 L176.1,511.0 L176.5,510.8 L176.8,510.8 L177.2,510.9 L177.5,511.1 L177.9,511.1 L178.2,510.9 L178.6,511.1 L178.9,510.8 L179.3,511.0 L179.6,510.9 L180.0,511.0 L180.3,510.9 L180.7,511.2 L181.0,511.0 L181.4,511.2 L181.7,510.9 L182.1,511.0 L182.4,511.1 L182.8,511.2 L183.1,511.0 L183.5,511.1 L183.8,511.0 L184.2,511.0 L184.5,511.2 L184.9,511.0 L185.2,511.1 L185.6,511.0 L185.9,511.0 L186.3,511.0 L186.6,511.3 L187.0,511.2 L187.3,511.1 L187.7,511.1 L188.0,511.3 L188.4,511.2 L188.7,511.4 L189.1,511.4 L189.4,511.2 L189.8,511.3 L190.1,511.2 L190.5,511.2 L190.8,511.2 L191.2,511.3 L191.5,511.3 L191.9,511.3 L192.2,511.2 L192.6,511.4 L192.9,511.4 L193.3,511.1 L193.6,511.4 L194.0,511.4 L194.3,511.4 L194.7,511.2 L195.0,511.2 L195.4,511.2 L195.7,511.1 L196.1,511.3 L196.4,511.4 L196.8,511.4 L197.1,511.3 L197.5,511.4 L197.8,511.4 L198.2,511.2 L198.5,511.4 L198.9,511.2 L199.2,511.4 L199.6,511.2 L199.9,511.1 L200.3,511.4 L200.6,511.2 L201.0,511.4 L201.3,511.3 L201.7,511.4 L202.0,511.1 L202.4,511.3 L202.7,511.4 L203.1,511.2 L203.4,511.3 L203.8,511.2 L204.1,511.2 L204.5,511.3 L204.8,511.3 L205.2,511.2 L205.5,511.2 L205.9,511.4 L206.2,511.4 L206.6,511.3 L206.9,511.2 L207.3,511.4 L207.6,511.3 L208.0,511.2 L208.3,511.4 L208.7,511.2 L209.0,511.4 L209.4,511.3 L209.7,511.4 L210.1,511.4 L210.4,511.4 L210.8,511.4 L211.1,511.5 L211.5,511.2 L211.8,511.2 L212.2,511.4 L212.5,511.2 L212.9,511.2 L213.2,511.4 L213.6,511.5 L213.9,511.4 L214.3,511.3 L214.7,511.3 L215.0,511.5 L215.4,511.4 L215.7,511.3 L216.1,511.1 L216.4,511.2 L216.8,511.1 L217.1,511.5 L217.5,511.2 L217.8,511.2 L218.2,511.3 L218.5,511.2 L218.9,511.3 L219.2,511.5 L219.6,511.4 L219.9,511.2 L220.3,511.5 L220.6,511.3 L221.0,511.3 L221.3,511.2 L221.7,511.5 L222.0,511.2 L222.4,511.4 L222.7,511.3 L223.1,511.4 L223.4,511.2 L223.8,511.3 L224.1,511.5 L224.5,511.3 L224.8,511.2 L225.2,511.1 L225.5,511.2 L225.9,511.4 L226.2,511.1 L226.6,511.1 L226.9,511.4 L227.3,511.4 L227.6,511.3 L228.0,511.3 L228.3,511.2 L228.7,511.2 L229.0,511.3 L229.4,511.2 L229.7,511.3 L230.1,511.2 L230.4,511.5 L230.8,511.4 L231.1,511.2 L231.5,511.2 L231.8,511.4 L232.2,511.3 L232.5,511.2 L232.9,511.1 L233.2,511.4 L233.6,511.3 L233.9,511.4 L234.3,511.2 L234.6,511.4 L235.0,511.4 L235.3,511.4 L235.7,511.4 L236.0,511.3 L236.4,511.1 L236.7,511.4 L237.1,511.1 L237.4,511.1 L237.8,511.3 L238.1,511.2 L238.5,511.3 L238.8,511.4 L239.2,511.2 L239.5,511.4 L239.9,511.5 L240.2,511.1 L240.6,511.3 L240.9,511.4 L241.3,511.4 L241.6,511.2 L242.0,511.4 L242.3,511.3 L242.7,511.2 L243.0,511.3 L243.4,511.3 L243.7,511.4 L244.1,511.4 L244.4,511.1 L244.8,511.3 L245.1,511.2 L245.5,511.4 L245.8,511.1 L246.2,511.4 L246.5,511.4 L246.8,511.1 L247.2,511.1 L247.5,511.4 L247.9,511.4 L248.2,511.2 L248.6,511.4 L248.9,511.3 L249.3,511.3 L249.6,511.3 L250.0,511.2 L250.3,511.4 L250.7,511.3 L251.0,511.4 L251.4,511.3 L251.7,511.3 L252.1,511.2 L252.4,511.1 L252.8,511.1 L253.1,510.9 L253.5,511.2 L253.8,510.9 L254.2,511.2 L254.5,510.8 L254.9,511.0 L255.2,511.0 L255.6,510.8 L255.9,510.6 L256.3,510.8 L256.6,510.6 L257.0,510.6 L257.3,510.6 L257.7,510.7 L258.0,510.3 L258.3,510.4 L258.7,510.4 L259.0,510.2 L259.4,510.4 L259.7,510.2 L260.1,509.9 L260.4,509.8 L260.7,509.7 L261.1,509.8 L261.4,509.8 L261.7,509.4 L262.1,509.3 L262.4,509.3 L262.7,509.3 L263.1,509.1 L263.4,509.0 L263.7,508.7 L264.0,508.8 L264.3,508.6 L264.6,508.6 L265.0,508.1 L265.3,508.1 L265.6,507.9 L265.9,507.9 L266.2,507.6 L266.5,507.4 L266.7,507.0 L267.0,507.1 L267.3,506.9 L267.6,506.7 L267.9,506.5 L268.1,506.2 L268.4,505.8 L268.7,505.6 L268.9,505.6 L269.2,505.3 L269.4,505.0 L269.7,504.8 L269.9,504.4 L270.2,504.3 L270.4,504.0 L270.6,503.6 L270.8,503.5 L271.1,503.2 L271.3,502.8 L271.5,502.8 L271.7,502.5 L271.9,501.9 L272.2,501.7 L272.4,501.3 L272.6,501.4 L272.8,500.8 L273.0,500.8 L273.2,500.4 L273.4,499.9 L273.7,499.7 L273.9,499.5 L274.1,499.4 L274.3,498.9 L274.5,498.6 L274.7,498.6 L275.0,498.2 L275.2,497.7 L275.4,497.8 L275.6,497.4 L275.8,497.0 L276.0,496.6 L276.2,496.6 L276.4,496.1 L276.6,496.1 L276.9,495.8 L277.1,495.5 L277.3,495.2 L277.5,495.0 L277.7,494.5 L277.8,494.4 L278.0,493.8 L278.2,493.7 L278.4,493.5 L278.6,492.9 L278.8,492.6 L279.0,492.6 L279.2,492.3 L279.4,491.7 L279.5,491.6 L279.7,491.1 L279.9,490.8 L280.1,490.8 L280.2,490.4 L280.4,490.2 L280.6,489.6 L280.7,489.5 L280.9,489.2 L281.1,488.7 L281.2,488.5 L281.4,488.1 L281.5,487.9 L281.7,487.4 L281.8,487.2 L282.0,487.1 L282.1,486.7 L282.2,486.3 L282.4,485.8 L282.5,485.8 L282.6,485.4 L282.8,485.2 L282.9,484.9 L283.0,484.6 L283.2,484.0 L283.3,483.8 L283.4,483.2 L283.5,482.8 L283.6,482.9 L283.8,482.5 L283.9,482.3 L284.0,481.6 L284.1,481.4 L284.2,481.2 L284.3,480.8 L284.5,480.6 L284.6,480.0 L284.7,479.9 L284.8,479.6 L284.9,479.3 L285.0,478.7 L285.1,478.6 L285.2,478.0 L285.3,477.8 L285.5,477.7 L285.6,477.1 L285.7,476.8 L285.8,476.3 L285.9,476.1 L286.0,475.7 L286.1,475.5 L286.2,475.1 L286.3,474.6 L286.4,474.2 L286.5,474.3 L286.6,473.8 L286.7,473.2 L286.8,473.0 L286.9,472.8 L287.0,472.2 L287.2,472.3 L287.3,471.7 L287.4,471.5 L287.5,471.1 L287.6,470.5 L287.7,470.6 L287.8,470.2 L287.9,469.5 L288.0,469.4 L288.1,469.0 L288.2,468.6 L288.3,468.3 L288.4,467.9 L288.5,467.8 L288.6,467.3 L288.7,466.8 L288.8,466.5 L288.9,466.1 L289.0,466.1 L289.1,465.7 L289.2,465.3 L289.3,465.0 L289.4,464.7 L289.5,464.2 L289.6,463.7 L289.7,463.9 L289.7,463.1 L289.8,462.8 L289.9,462.8 L290.0,462.6 L290.1,461.8 L290.2,461.6 L290.3,461.5 L290.4,460.7 L290.5,460.5 L290.6,460.4 L290.7,460.1 L290.8,459.4 L290.9,459.2 L291.0,459.0 L291.1,458.6 L291.2,458.3 L291.3,458.2 L291.4,457.9 L291.5,457.1 L291.6,456.8 L291.7,456.5 L291.8,456.0 L291.9,455.7 L292.0,455.6 L292.1,455.6 L292.2,454.8 L292.3,454.4 L292.4,454.3 L292.5,453.8 L292.6,453.3 L292.7,453.0 L292.8,453.1 L292.9,452.3 L293.0,452.3 L293.1,451.8 L293.2,451.7 L293.3,451.2 L293.4,450.7 L293.5,450.4 L293.6,450.0 L293.7,449.7 L293.8,449.4 L293.9,449.1 L294.0,448.9 L294.1,448.6 L294.2,447.9 L294.3,447.8 L294.4,447.8 L294.5,447.5 L294.6,446.7 L294.7,446.3 L294.8,446.1 L294.9,445.6 L295.0,445.4 L295.1,445.5 L295.3,445.1 L295.4,444.5 L295.5,444.2 L295.6,444.0 L295.7,443.7 L295.8,443.3 L295.9,443.0 L296.0,442.6 L296.1,442.0 L296.3,442.0 L296.4,441.7 L296.5,441.0 L296.6,440.7 L296.7,440.7 L296.8,440.2 L297.0,440.1 L297.1,439.4 L297.2,439.4 L297.3,439.0 L297.5,438.3 L297.6,438.1 L297.7,437.8 L297.8,437.5 L298.0,437.0 L298.1,436.8 L298.2,436.7 L298.4,436.1 L298.5,436.1 L298.6,435.6 L298.8,435.3 L298.9,434.8 L299.1,434.9 L299.2,434.1 L299.3,434.4 L299.5,433.8 L299.6,433.8 L299.8,433.2 L299.9,432.7 L300.0,432.4 L300.2,432.5 L300.3,431.9 L300.5,431.4 L300.6,431.0 L300.8,430.6 L300.9,430.5 L301.1,430.2 L301.2,430.1 L301.3,429.3 L301.5,429.2 L301.6,428.7 L301.8,428.5 L301.9,428.3 L302.1,428.3 L302.2,427.4 L302.3,427.1 L302.5,427.2 L302.6,426.7 L302.8,426.1 L302.9,426.2 L303.0,426.1 L303.2,425.6 L303.3,425.5 L303.5,425.0 L303.6,424.3 L303.7,424.4 L303.9,423.9 L304.0,423.2 L304.2,423.1 L304.3,423.2 L304.4,422.6 L304.6,422.1 L304.7,422.1 L304.9,421.7 L305.0,421.0 L305.2,420.9 L305.3,420.9 L305.5,420.0 L305.6,420.0 L305.8,419.4 L305.9,419.2 L306.1,419.3 L306.2,418.6 L306.4,418.7 L306.5,418.3 L306.7,417.9 L306.9,417.2 L307.0,417.2 L307.2,417.2 L307.4,416.7 L307.5,415.9 L307.7,416.0 L307.9,415.6 L308.1,415.4 L308.2,415.0 L308.4,415.0 L308.6,414.5 L308.8,414.5 L309.0,414.2 L309.2,413.9 L309.4,413.5 L309.6,412.6 L309.7,412.3 L309.9,412.1 L310.1,412.1 L310.3,411.7 L310.5,411.2 L310.7,411.6 L310.9,410.9 L311.1,410.4 L311.4,410.4 L311.6,410.5 L311.8,410.0 L312.0,409.9 L312.2,408.9 L312.4,409.2 L312.6,408.6 L312.8,408.3 L313.1,408.1 L313.3,407.9 L313.5,407.9 L313.7,407.2 L314.0,407.1 L314.2,406.8 L314.4,406.7 L314.7,406.4 L314.9,405.7 L315.1,406.1 L315.4,405.7 L315.6,405.0 L315.9,405.1 L316.1,405.2 L316.4,404.9 L316.7,404.3 L316.9,403.9 L317.2,404.3 L317.5,403.9 L317.7,403.6 L318.0,403.2 L318.3,403.4 L318.6,402.6 L318.9,403.0 L319.2,402.8 L319.5,402.4 L319.8,402.0 L320.1,402.1 L320.4,401.7 L320.7,401.6 L321.0,401.3 L321.3,401.5 L321.6,400.8 L321.9,401.0 L322.2,400.8 L322.6,401.1 L322.9,400.1 L323.2,400.4 L323.5,399.9 L323.8,400.4 L324.1,399.5 L324.4,400.1 L324.7,399.7 L325.1,399.2 L325.4,399.2 L325.7,399.0 L326.0,399.0 L326.4,399.2 L326.7,398.8 L327.0,399.2 L327.4,399.0 L327.7,398.3 L328.0,398.1 L328.4,398.5 L328.7,398.1 L329.1,398.0 L329.4,398.4 L329.7,398.1 L330.1,397.7 L330.4,397.9 L330.7,397.7 L331.1,397.9 L331.4,397.4 L331.8,397.4 L332.1,397.0 L332.4,397.5 L332.8,397.5 L333.1,396.6 L333.4,397.2 L333.8,397.3 L334.1,397.2 L334.5,397.0 L334.8,396.5 L335.2,397.1 L335.5,396.5 L335.8,396.9 L336.2,396.7 L336.5,396.5 L336.9,396.8 L337.2,396.7 L337.6,396.2 L337.9,396.2 L338.3,396.5 L338.6,396.1 L339.0,396.4 L339.3,395.8 L339.6,395.7 L340.0,395.8 L340.3,395.6 L340.7,395.7 L341.0,395.4 L341.4,395.3 L341.7,395.4 L342.0,395.2 L342.4,395.3 L342.7,395.2 L343.1,395.6 L343.4,395.1 L343.8,395.2 L344.1,395.4 L344.4,394.9 L344.8,394.7 L345.1,394.9 L345.5,395.0 L345.8,394.5 L346.2,394.8 L346.5,394.5 L346.8,394.4 L347.2,394.5 L347.5,394.2 L347.9,393.9 L348.2,393.9 L348.5,393.6 L348.9,394.3 L349.2,394.0 L349.6,394.2 L349.9,393.5 L350.2,393.7 L350.6,393.6 L350.9,393.1 L351.3,393.4 L351.6,393.4 L351.9,393.1 L352.3,393.0 L352.6,392.8 L353.0,392.6 L353.3,392.9 L353.6,392.5 L354.0,392.3 L354.3,393.0 L354.6,392.8 L355.0,392.2 L355.3,392.2 L355.6,391.9 L356.0,392.5 L356.3,391.7 L356.6,392.1 L356.9,391.9 L357.3,391.1 L357.6,391.0 L357.9,391.3 L358.3,390.8 L358.6,391.5 L358.9,391.4 L359.3,390.9 L359.6,390.5 L359.9,390.3 L360.2,390.1 L360.6,390.4 L360.9,389.9 L361.2,389.8 L361.5,390.2 L361.9,390.2 L362.2,389.8 L362.5,390.0 L362.8,389.8 L363.2,389.3 L363.5,389.1 L363.8,388.8 L364.1,389.2 L364.5,388.8 L364.8,389.0 L365.1,388.5 L365.4,388.8 L365.8,388.5 L366.1,388.2 L366.4,388.2 L366.7,388.1 L367.1,387.3 L367.4,387.9 L367.7,387.1 L368.0,387.4 L368.4,387.2 L368.7,387.3 L369.0,386.7 L369.3,387.0 L369.7,387.0 L370.0,386.4 L370.3,386.5 L370.6,386.2 L370.9,386.4 L371.3,386.4 L371.6,385.9 L371.9,385.3 L372.2,386.0 L372.5,385.5 L372.9,385.0 L373.2,385.4 L373.5,385.0 L373.8,384.6 L374.1,384.6 L374.5,384.7 L374.8,384.3 L375.1,383.9 L375.4,383.7 L375.7,383.9 L376.0,384.0 L376.3,383.5 L376.7,383.4 L377.0,383.6 L377.3,383.3 L377.6,383.5 L377.9,383.2 L378.2,383.1 L378.5,382.6 L378.8,382.7 L379.2,382.7 L379.5,381.6 L379.8,381.9 L380.1,382.0 L380.4,381.3 L380.7,381.0 L381.0,381.2 L381.3,380.7 L381.6,380.6 L381.9,380.3 L382.2,380.8 L382.5,380.0 L382.8,380.6 L383.2,380.1 L383.5,379.8 L383.8,379.3 L384.1,379.4 L384.3,379.1 L384.6,379.5 L384.9,379.0 L385.2,378.3 L385.5,379.0 L385.8,378.8 L386.1,378.6 L386.4,377.8 L386.7,377.8 L387.0,377.8 L387.2,377.0 L387.5,377.1 L387.8,376.8 L388.1,377.1 L388.4,376.1 L388.6,376.7 L388.9,375.7 L389.2,376.3 L389.5,375.7 L389.7,375.2 L390.0,375.1 L390.3,375.5 L390.6,374.5 L390.8,374.9 L391.1,374.8 L391.4,374.0 L391.7,374.0 L391.9,373.7 L392.2,373.9 L392.5,373.0 L392.7,372.9 L393.0,373.0 L393.3,372.2 L393.6,372.1 L393.8,372.4 L394.1,372.1 L394.4,371.8 L394.7,371.9 L394.9,371.0 L395.2,371.5 L395.5,370.7 L395.8,371.0 L396.0,370.6 L396.3,370.4 L396.6,370.1 L396.9,370.1 L397.2,369.4 L397.4,369.6 L397.7,368.8 L398.0,369.1 L398.3,369.2 L398.6,369.0 L398.8,368.1 L399.1,368.5 L399.4,368.0 L399.7,367.6 L400.0,367.4 L400.3,367.2 L400.5,367.0 L400.8,367.3 L401.1,366.9 L401.4,366.1 L401.7,366.5 L401.9,366.2 L402.2,366.3 L402.5,365.4 L402.8,365.7 L403.1,365.2 L403.3,364.7 L403.6,364.4 L403.9,365.0 L404.2,363.9 L404.5,363.9 L404.7,363.9 L405.0,363.5 L405.3,363.6 L405.6,363.0 L405.8,363.4 L406.1,362.9 L406.4,362.8 L406.7,362.9 L406.9,361.9 L407.2,362.0 L407.5,361.4 L407.8,361.3 L408.0,361.3 L408.3,361.4 L408.6,360.6 L408.8,361.0 L409.1,360.7 L409.4,360.2 L409.7,360.4 L409.9,359.7 L410.2,360.1 L410.5,359.8 L410.8,359.0 L411.0,359.4 L411.3,359.0 L411.6,358.5 L411.8,358.4 L412.1,358.4 L412.4,358.3 L412.7,358.0 L412.9,357.9 L413.2,357.1 L413.5,356.4 L413.8,356.3 L414.0,356.4 L414.3,355.9 L414.6,356.1 L414.9,355.5 L415.1,355.4 L415.4,355.2 L415.7,355.6 L416.0,354.9 L416.2,354.4 L416.5,354.8 L416.8,354.8 L417.0,354.3 L417.3,353.4 L417.6,354.0 L417.9,353.1 L418.1,353.5 L418.4,353.3 L418.7,353.0 L418.9,352.1 L419.2,352.2 L419.4,351.7 L419.7,352.1 L420.0,351.1 L420.2,351.3 L420.5,351.4 L420.7,351.2 L421.0,350.6 L421.2,350.0 L421.5,350.6 L421.7,349.7 L422.0,349.7 L422.2,348.9 L422.5,349.0 L422.7,349.4 L423.0,348.9 L423.2,348.7 L423.5,348.3 L423.7,347.5 L424.0,347.4 L424.2,347.9 L424.4,346.8 L424.7,347.1 L424.9,346.5 L425.2,346.7 L425.4,345.8 L425.7,345.5 L425.9,345.7 L426.2,345.2 L426.4,345.5 L426.7,345.5 L426.9,344.3 L427.2,344.2 L427.4,343.8 L427.7,343.8 L427.9,343.4 L428.2,343.6 L428.4,343.1 L428.7,343.0 L428.9,343.2 L429.2,342.9 L429.4,341.9 L429.7,341.8 L430.0,341.9 L430.2,341.5 L430.5,340.8 L430.7,341.4 L431.0,341.2 L431.3,340.6 L431.5,340.0 L431.8,340.4 L432.0,339.4 L432.3,339.2 L432.6,339.5 L432.8,339.1 L433.1,339.5 L433.3,338.5 L433.6,338.2 L433.8,338.1 L434.1,338.5 L434.4,338.0 L434.6,337.0 L434.9,336.9 L435.1,337.6 L435.4,336.9 L435.7,336.5 L435.9,335.9 L436.2,335.8 L436.4,335.3 L436.7,336.1 L436.9,335.9 L437.2,335.2 L437.4,335.3 L437.7,334.3 L437.9,334.2 L438.2,334.3 L438.4,334.2 L438.7,333.9 L439.0,333.0 L439.2,333.8 L439.5,332.7 L439.7,333.0 L440.0,333.0 L440.2,331.9 L440.5,332.0 L440.8,332.0 L441.0,332.2 L441.3,331.6 L441.5,331.1 L441.8,331.1 L442.1,330.7 L442.3,330.0 L442.6,329.9 L442.9,330.1 L443.1,330.0 L443.4,329.5 L443.7,329.0 L443.9,328.6 L444.2,329.1 L444.5,328.3 L444.7,328.7 L445.0,328.7 L445.3,328.3 L445.6,327.9 L445.8,327.0 L446.1,327.5 L446.4,327.7 L446.6,326.6 L446.9,327.1 L447.2,326.5 L447.5,326.6 L447.8,326.3 L448.0,325.6 L448.3,325.6 L448.6,324.9 L448.9,324.7 L449.1,324.7 L449.4,325.0 L449.7,324.4 L450.0,324.8 L450.3,324.3 L450.6,324.4 L450.8,324.1 L451.1,323.4 L451.4,322.8 L451.7,323.1 L452.0,322.9 L452.3,322.2 L452.6,322.1 L452.9,322.9 L453.2,322.5 L453.5,321.8 L453.7,321.2 L454.0,321.3 L454.3,321.4 L454.6,321.7 L454.9,320.4 L455.2,321.1 L455.5,321.2 L455.8,321.0 L456.1,320.4 L456.5,320.5 L456.8,320.2 L457.1,319.2 L457.4,319.4 L457.7,320.1 L458.0,318.9 L458.3,318.8 L458.6,319.2 L459.0,319.4 L459.3,318.6 L459.6,318.7 L459.9,319.1 L460.2,318.7 L460.6,317.6 L460.9,318.3 L461.2,317.4 L461.5,318.3 L461.8,317.9 L462.2,318.0 L462.5,317.4 L462.8,316.7 L463.1,316.8 L463.5,316.5 L463.8,317.2 L464.1,317.2 L464.4,316.5 L464.8,316.9 L465.1,316.0 L465.4,316.2 L465.8,316.0 L466.1,316.0 L466.4,315.3 L466.7,315.3 L467.1,315.1 L467.4,315.7 L467.7,315.4 L468.1,315.9 L468.4,315.3 L468.7,314.7 L469.1,314.5 L469.4,315.1 L469.7,315.1 L470.1,314.2 L470.4,314.6 L470.7,315.0 L471.1,314.9 L471.4,313.8 L471.8,314.2 L472.1,314.6 L472.4,314.1 L472.8,313.3 L473.1,313.7 L473.5,313.5 L473.8,313.5 L474.1,314.2 L474.5,313.9 L474.8,314.1 L475.2,313.8 L475.5,313.9 L475.8,313.2 L476.2,313.7 L476.5,313.2 L476.9,313.5 L477.2,312.6 L477.6,313.4 L477.9,312.7 L478.3,313.4 L478.6,312.5 L478.9,312.5 L479.3,312.6 L479.6,313.0 L480.0,312.8 L480.3,312.1 L480.7,312.4 L481.0,312.7 L481.4,312.7 L481.7,312.5 L482.0,311.9 L482.4,312.6 L482.7,311.9 L483.1,312.2 L483.4,312.3 L483.8,312.0 L484.1,311.2 L484.5,311.3 L484.8,312.0 L485.1,311.8 L485.5,311.9 L485.8,311.7 L486.2,311.6 L486.5,311.8 L486.9,311.8 L487.2,310.9 L487.6,311.5 L487.9,311.6 L488.2,310.5 L488.6,310.8 L488.9,310.9 L489.3,310.8 L489.6,311.1 L490.0,310.0 L490.3,310.0 L490.6,310.8 L491.0,310.1 L491.3,310.3 L491.7,309.8 L492.0,310.7 L492.4,310.1 L492.7,309.5 L493.0,310.5 L493.4,310.0 L493.7,309.5 L494.1,309.3 L494.4,309.1 L494.8,310.1 L495.1,309.2 L495.5,309.2 L495.8,309.6 L496.2,309.0 L496.5,309.8 L496.8,309.7 L497.2,309.6 L497.5,309.2 L497.9,309.1 L498.2,309.7 L498.6,310.0 L498.9,309.5 L499.3,309.8 L499.6,308.9 L500.0,309.6 L500.3,308.9 L500.7,309.0 L501.0,308.7 L501.4,309.8 L501.7,308.8 L502.1,308.9 L502.4,309.0 L502.8,309.1 L503.1,309.6 L503.5,308.7 L503.8,308.7 L504.2,308.9 L504.5,309.7 L504.9,309.6 L505.3,309.7 L505.6,309.2 L506.0,308.6 L506.3,309.4 L506.7,309.0 L507.0,308.8 L507.4,309.0 L507.7,309.6 L508.1,309.4 L508.4,309.6 L508.8,309.5 L509.1,309.5 L509.5,309.4 L509.8,309.7 L510.1,309.7 L510.5,309.7 L510.8,309.3 L511.2,309.2 L511.5,309.9 L511.9,309.8 L512.2,310.0 L512.5,309.5 L512.9,309.2 L513.2,310.2 L513.6,309.5 L513.9,310.3 L514.2,309.5 L514.6,309.7 L514.9,309.8 L515.2,310.0 L515.6,310.9 L515.9,310.0 L516.2,310.5 L516.6,310.9 L516.9,311.0 L517.2,311.3 L517.6,311.3 L517.9,310.9 L518.2,311.0 L518.5,312.0 L518.9,311.5 L519.2,311.5 L519.5,311.8 L519.9,311.7 L520.2,312.6 L520.5,312.1 L520.8,312.6 L521.2,312.6 L521.5,312.9 L521.8,313.5 L522.1,313.1 L522.5,312.7 L522.8,313.6 L523.1,313.2 L523.4,313.3 L523.8,314.1 L524.1,313.5 L524.4,313.7 L524.7,314.0 L525.1,314.6 L525.4,314.7 L525.7,314.3 L526.1,314.0 L526.4,314.1 L526.7,314.4 L527.0,315.6 L527.4,315.0 L527.7,315.2 L528.0,315.5 L528.4,315.4 L528.7,315.1 L529.0,315.9 L529.4,315.3 L529.7,315.6 L530.1,315.3 L530.4,316.2 L530.7,316.5 L531.1,316.0 L531.4,315.7 L531.8,316.2 L532.1,316.0 L532.4,316.1 L532.8,316.7 L533.1,316.7 L533.5,316.7 L533.8,316.5 L534.1,316.7 L534.5,316.5 L534.8,316.4 L535.2,316.0 L535.5,316.9 L535.8,316.3 L536.2,316.8 L536.5,316.8 L536.9,316.1 L537.2,316.3 L537.5,316.1 L537.9,316.3 L538.2,316.5 L538.6,315.2 L538.9,316.1 L539.2,315.3 L539.6,315.1 L539.9,315.6 L540.3,315.0 L540.6,315.2 L540.9,314.7 L541.3,314.4 L541.6,314.9 L542.0,314.4 L542.3,315.3 L542.7,314.1 L543.0,314.1 L543.3,315.1 L543.7,314.2 L544.0,314.5 L544.4,313.7 L544.7,314.5 L545.1,314.2 L545.4,314.5 L545.7,314.3 L546.1,314.2 L546.4,313.9 L546.8,314.0 L547.1,314.2 L547.5,313.7 L547.8,314.0 L548.2,313.3 L548.5,314.2 L548.9,313.9 L549.2,313.3 L549.6,313.4 L549.9,313.5 L550.3,313.2 L550.6,313.7 L551.0,313.7 L551.3,313.8 L551.7,313.6 L552.0,313.3 L552.4,314.0 L552.7,313.6 L553.1,313.1 L553.4,314.0 L553.8,313.2 L554.1,313.9 L554.5,313.8 L554.8,314.3 L555.1,314.4 L555.5,313.7 L555.8,314.0 L556.2,313.5 L556.5,314.1 L556.9,313.9 L557.2,314.1 L557.5,314.1 L557.9,314.8 L558.2,314.5 L558.6,314.9 L558.9,314.5 L559.2,314.5 L559.6,315.4 L559.9,314.7 L560.2,314.5 L560.6,314.8 L560.9,315.6 L561.2,315.3 L561.5,315.8 L561.9,315.8 L562.2,316.2 L562.5,315.4 L562.9,316.5 L563.2,315.7 L563.5,316.2 L563.8,316.9 L564.2,316.3 L564.5,316.7 L564.8,316.6 L565.1,316.4 L565.5,317.1 L565.8,316.6 L566.1,316.7 L566.4,317.4 L566.8,317.4 L567.1,318.1 L567.4,317.8 L567.8,317.8 L568.1,317.8 L568.4,318.7 L568.7,318.7 L569.1,318.6 L569.4,318.2 L569.7,318.8 L570.0,318.3 L570.4,318.5 L570.7,319.0 L571.0,318.7 L571.4,318.8 L571.7,319.5 L572.0,319.9 L572.4,319.3 L572.7,320.1 L573.0,319.4 L573.4,319.8 L573.7,319.8 L574.1,320.4 L574.4,320.2 L574.7,320.2 L575.1,319.7 L575.4,319.8 L575.8,320.0 L576.1,320.5 L576.5,320.7 L576.8,320.8 L577.1,320.7 L577.5,320.7 L577.8,320.7 L578.2,320.4 L578.5,319.6 L578.9,319.6 L579.2,319.5 L579.5,320.2 L579.9,320.1 L580.2,319.3 L580.5,319.3 L580.8,319.1 L581.1,319.8 L581.5,319.5 L581.8,319.3 L582.1,319.0 L582.4,318.7 L582.7,318.5 L583.0,317.9 L583.3,318.2 L583.6,318.1 L583.9,318.0 L584.2,317.1 L584.4,317.9 L584.7,317.4 L585.0,317.1 L585.3,316.4 L585.5,316.5 L585.8,316.4 L586.0,315.6 L586.3,316.0 L586.5,315.6 L586.8,315.6 L587.0,315.1 L587.3,315.0 L587.5,315.1 L587.7,314.5 L588.0,313.4 L588.2,313.2 L588.4,313.3 L588.6,313.1 L588.8,313.1 L589.0,312.5 L589.2,312.3 L589.4,311.5 L589.6,312.2 L589.8,311.5 L590.0,311.7 L590.2,311.4 L590.4,311.2 L590.6,310.5 L590.8,309.4 L590.9,309.6 L591.1,309.4 L591.3,308.8 L591.5,308.2 L591.7,308.8 L591.9,308.5 L592.0,307.5 L592.2,307.0 L592.4,307.6 L592.6,307.2 L592.8,306.2 L592.9,306.0 L593.1,305.7 L593.3,305.9 L593.4,305.9 L593.6,305.6 L593.8,304.4 L594.0,304.3 L594.1,304.3 L594.3,304.1 L594.5,303.3 L594.6,303.1 L594.8,303.1 L595.0,302.9 L595.1,302.7 L595.3,302.1 L595.4,301.1 L595.6,301.1 L595.8,301.2 L595.9,300.6 L596.1,301.1 L596.3,299.9 L596.4,300.4 L596.6,299.2 L596.8,299.6 L596.9,299.2 L597.1,299.3 L597.3,298.6 L597.5,298.6 L597.6,298.3 L597.8,297.3 L598.0,297.2 L598.1,296.3 L598.3,296.1 L598.5,296.7 L598.6,295.5 L598.8,295.4 L599.0,294.9 L599.2,295.4 L599.3,294.2 L599.5,294.5 L599.7,293.6 L599.9,294.2 L600.0,293.0 L600.2,293.3 L600.4,293.5 L600.6,292.8 L600.7,292.4 L600.9,292.3 L601.1,291.6 L601.3,290.9 L601.5,291.4 L601.7,291.3 L601.8,290.2 L602.0,290.1 L602.2,290.4 L602.4,289.3 L602.6,289.1 L602.8,288.8 L603.0,288.3 L603.2,289.0 L603.4,288.3 L603.6,288.1 L603.8,287.9 L604.0,287.8 L604.2,287.0 L604.4,287.4 L604.6,285.8 L604.8,285.8 L605.0,285.4 L605.2,285.7 L605.4,285.6 L605.6,285.5 L605.9,285.4 L606.1,285.1 L606.3,284.2 L606.5,283.9 L606.7,283.7 L607.0,282.7 L607.2,283.1 L607.4,283.2 L607.6,282.0 L607.9,282.0 L608.1,281.6 L608.3,281.3 L608.6,281.3 L608.8,281.2 L609.1,280.5 L609.3,281.0 L609.6,280.8 L609.8,281.0 L610.1,280.4 L610.3,279.2 L610.6,279.1 L610.8,279.9 L611.1,278.6 L611.3,278.5 L611.6,278.6 L611.9,278.9 L612.1,278.2 L612.4,277.3 L612.7,277.6 L613.0,278.2 L613.2,277.0 L613.5,277.4 L613.8,276.6 L614.1,276.1 L614.4,276.3 L614.7,276.3 L615.0,276.6 L615.2,275.5 L615.5,276.3 L615.8,275.0 L616.1,275.1 L616.4,275.1 L616.7,275.7 L617.0,274.7 L617.4,274.4 L617.7,273.9 L618.0,274.0 L618.3,274.4 L618.6,274.4 L618.9,273.8 L619.2,274.4 L619.6,273.0 L619.9,273.7 L620.2,273.2 L620.5,273.3 L620.9,272.9 L621.2,272.6 L621.5,272.5 L621.9,272.3 L622.2,272.9 L622.6,273.4 L622.9,272.1 L623.2,273.1 L623.6,272.8 L623.9,272.2 L624.3,271.9 L624.6,271.9 L625.0,273.0 L625.3,272.4 L625.7,272.9 L626.0,271.8 L626.4,271.6 L626.7,272.2 L627.1,271.5 L627.4,272.1 L627.8,272.1 L628.1,272.7 L628.5,272.3 L628.8,271.3 L629.1,271.3 L629.5,271.3 L629.8,272.1 L630.2,272.1 L630.5,272.1 L630.9,272.5 L631.2,271.5 L631.6,272.0 L631.9,272.5 L632.3,272.2 L632.7,271.7 L633.0,271.3 L633.4,271.3 L633.7,272.6 L634.1,271.4 L634.4,271.2 L634.8,272.3 L635.1,272.0 L635.5,271.8 L635.8,272.1 L636.2,271.5 L636.5,271.7 L636.9,271.6 L637.2,271.4 L637.6,272.2 L637.9,271.7 L638.3,271.8 L638.6,272.1 L639.0,272.2 L639.3,272.4 L639.7,272.3 L640.0,271.7 L640.4,271.3 L640.7,272.2 L641.1,271.5 L641.4,271.9 L641.8,272.6 L642.1,271.4 L642.5,271.9 L642.8,271.6 L643.2,272.1 L643.5,272.1 L643.9,271.7 L644.2,272.8 L644.6,272.3 L644.9,271.6 L645.3,272.7 L645.6,272.5 L645.9,272.1 L646.3,272.7 L646.6,272.7 L647.0,272.1 L647.3,273.0 L647.7,272.7 L648.0,271.8 L648.4,272.0 L648.7,271.8 L649.1,272.8 L649.4,272.0 L649.8,272.6 L650.1,272.7 L650.5,272.0 L650.8,273.6 L651.2,273.5 L651.5,273.6 L651.9,272.6 L652.2,272.6 L652.6,272.3 L652.9,273.7 L653.3,273.4 L653.6,272.4 L654.0,272.2 L654.3,273.5 L654.7,272.6 L655.0,272.8 L655.4,273.4 L655.7,273.5 L656.1,273.0 L656.4,273.6 L656.8,272.9 L657.1,272.9 L657.5,273.2 L657.8,273.0 L658.2,272.6 L658.5,273.4 L658.9,273.2 L659.2,272.4 L659.6,273.1 L659.9,273.0 L660.3,273.0 L660.6,273.0 L661.0,273.2 L661.3,272.8 L661.7,272.9 L662.0,273.6 L662.4,272.2 L662.7,273.3 L663.1,272.1 L663.4,272.1 L663.8,273.5 L664.1,272.2 L664.5,272.1 L664.8,273.4 L665.2,272.5 L665.5,272.7 L665.9,272.9 L666.2,272.8 L666.6,273.2 L666.9,272.6 L667.3,273.2 L667.6,272.4 L668.0,272.1 L668.3,273.1 L668.6,273.4 L669.0,273.2 L669.3,271.9 L669.7,272.5 L670.0,272.8 L670.4,272.6 L670.7,273.0 L671.1,273.3 L671.4,272.6 L671.8,273.0 L672.1,272.1 L672.5,272.3 L672.8,272.9 L673.2,271.7 L673.5,272.3 L673.9,272.3 L674.2,271.7 L674.6,272.4 L674.9,272.4 L675.3,272.1 L675.6,271.4 L676.0,271.4 L676.3,271.9 L676.6,271.2 L677.0,272.0 L677.3,272.0 L677.7,270.9 L678.0,271.7 L678.4,271.8 L678.7,271.7 L679.1,271.9 L679.4,271.6 L679.8,270.7 L680.1,270.8 L680.5,271.5 L680.8,271.6 L681.2,270.6 L681.5,270.9 L681.8,270.3 L682.2,271.3 L682.5,271.4 L682.9,270.0 L683.2,271.3 L683.6,270.3 L683.9,270.4 L684.3,270.4 L684.6,271.2 L684.9,270.2 L685.3,270.9 L685.6,271.2 L686.0,270.6 L686.3,270.5 L686.7,270.4 L687.0,270.2 L687.4,269.1 L687.7,269.7 L688.1,269.6 L688.4,269.2 L688.7,270.1 L689.1,269.1 L689.4,269.1 L689.8,268.8 L690.1,269.2 L690.5,269.3 L690.8,270.2 L691.2,268.6 L691.5,269.8 L691.9,268.8 L692.2,269.8 L692.5,269.0 L692.9,269.3 L693.2,269.3 L693.6,269.5 L693.9,269.6 L694.3,269.0 L694.6,269.0 L695.0,268.6 L695.3,268.7 L695.7,269.5 L696.0,268.3 L696.4,268.9 L696.7,268.4 L697.1,269.2 L697.4,268.3 L697.8,268.0 L698.1,268.4 L698.5,268.6 L698.8,267.8 L699.2,267.6 L699.5,268.0 L699.8,267.5 L700.2,268.8 L700.5,268.0 L700.9,268.6 L701.2,268.9 L701.6,268.3 L701.9,268.9 L702.3,268.1 L702.6,267.2 L703.0,268.0 L703.3,267.8 L703.7,267.7 L704.0,267.9 L704.4,268.6 L704.7,268.4 L705.1,268.3 L705.4,267.1 L705.8,268.1 L706.1,268.1 L706.5,267.1 L706.8,268.4 L707.2,267.3 L707.5,268.1 L707.8,267.4 L708.2,267.3 L708.5,267.6 L708.9,267.7 L709.2,266.7 L709.6,267.5 L709.9,266.3 L710.3,266.5 L710.6,266.7 L711.0,265.9 L711.3,267.5 L711.7,266.7 L712.0,266.1 L712.3,266.9 L712.7,266.2 L713.0,265.9 L713.4,266.2 L713.7,265.9 L714.1,265.9 L714.4,267.2 L714.8,265.5 L715.1,266.4 L715.5,266.4 L715.8,266.3 L716.2,267.2 L716.5,265.3 L716.9,266.8 L717.2,265.4 L717.6,265.4 L717.9,266.0 L718.3,266.3 L718.6,266.3 L719.0,265.8 L719.3,267.2 L719.6,266.9 L720.0,266.4 L720.3,267.1 L720.7,265.8 L721.0,267.0 L721.4,266.0 L721.7,265.2 L722.1,267.1 L722.4,265.7 L722.8,265.4 L723.1,265.6 L723.5,266.7 L723.8,266.6 L724.2,266.9 L724.5,265.7 L724.9,265.6 L725.2,267.1 L725.6,265.7 L725.9,265.4 L726.3,266.8 L726.6,265.6 L727.0,266.5 L727.3,265.8 L727.7,266.6 L728.0,266.0 L728.3,266.9 L728.7,265.7 L729.0,265.2 L729.3,265.9 L729.6,265.3 L729.9,265.6 L730.1,265.7 L730.3,265.7 L730.5,265.6 L731.5,265.8"/>
<path stroke="#b8005c" stroke-width="8.5" d="M82.5,504.2 L83.5,505.6 L83.7,509.1 L83.9,507.7 L84.2,504.9 L84.5,506.9 L84.8,507.1 L85.1,505.5 L85.4,508.4 L85.7,505.4 L86.0,506.8 L86.4,507.3 L86.7,507.0 L87.1,507.6 L87.4,508.2 L87.8,508.9 L88.1,506.6 L88.5,507.8 L88.8,507.9 L89.1,506.7 L89.5,505.9 L89.8,508.7 L90.2,506.8 L90.5,506.9 L90.9,508.4 L91.2,507.6 L91.6,507.4 L91.9,508.0 L92.3,506.5 L92.6,507.9 L93.0,507.3 L93.3,506.8 L93.7,507.8 L94.0,508.3 L94.4,507.1 L94.7,507.8 L95.1,507.3 L95.4,508.0 L95.8,508.0 L96.1,507.3 L96.5,508.2 L96.8,508.0 L97.2,508.0 L97.5,508.2 L97.9,507.8 L98.2,508.2 L98.6,508.3 L98.9,507.6 L99.3,508.3 L99.6,507.9 L100.0,508.0 L100.3,507.8 L100.7,508.3 L101.0,508.0 L101.4,508.5 L101.7,508.0 L102.1,508.3 L102.4,508.2 L102.8,508.4 L103.1,508.1 L103.5,508.1 L103.8,508.5 L104.2,508.5 L104.5,508.4 L104.9,508.7 L105.2,508.2 L105.6,508.7 L105.9,508.3 L106.3,508.8 L106.6,508.6 L107.0,508.6 L107.3,508.8 L107.7,508.7 L108.0,508.7 L108.4,508.3 L108.7,508.5 L109.1,508.4 L109.4,508.5 L109.8,508.5 L110.1,508.9 L110.5,508.5 L110.8,508.6 L111.2,508.7 L111.5,508.9 L111.9,509.0 L112.2,508.9 L112.6,508.6 L112.9,508.8 L113.3,508.9 L113.6,508.6 L113.9,508.9 L114.3,508.8 L114.6,508.9 L115.0,509.0 L115.3,509.0 L115.7,508.9 L116.0,509.0 L116.4,508.8 L116.7,509.0 L117.1,508.8 L117.4,509.0 L117.8,509.0 L118.1,509.1 L118.5,509.0 L118.8,508.9 L119.2,509.1 L119.5,509.0 L119.9,509.2 L120.2,509.1 L120.6,509.1 L120.9,509.3 L121.3,509.1 L121.6,509.2 L122.0,509.2 L122.3,509.2 L122.7,509.1 L123.0,509.3 L123.4,509.5 L123.7,509.3 L124.1,509.4 L124.4,509.5 L124.8,509.5 L125.1,509.5 L125.5,509.5 L125.8,509.6 L126.2,509.4 L126.5,509.5 L126.9,509.4 L127.2,509.4 L127.6,509.6 L127.9,509.5 L128.3,509.6 L128.6,509.6 L129.0,509.5 L129.3,509.6 L129.7,509.6 L130.0,509.7 L130.4,509.5 L130.7,509.6 L131.1,509.7 L131.4,509.7 L131.8,509.8 L132.1,509.7 L132.5,509.7 L132.8,510.0 L133.2,509.7 L133.5,509.7 L133.9,509.8 L134.2,509.8 L134.6,509.8 L134.9,509.9 L135.3,510.1 L135.6,509.8 L136.0,509.9 L136.3,510.0 L136.7,510.1 L137.0,510.2 L137.4,509.9 L137.7,510.1 L138.1,510.2 L138.4,509.9 L138.8,510.1 L139.1,510.0 L139.5,510.2 L139.8,510.3 L140.2,510.2 L140.5,510.0 L140.9,510.0 L141.2,510.2 L141.6,510.3 L141.9,510.1 L142.3,510.3 L142.6,510.2 L143.0,510.2 L143.3,510.3 L143.7,510.2 L144.0,510.2 L144.4,510.4 L144.7,510.3 L145.1,510.4 L145.4,510.3 L145.8,510.2 L146.1,510.3 L146.5,510.5 L146.8,510.4 L147.2,510.6 L147.5,510.2 L147.9,510.3 L148.2,510.5 L148.6,510.5 L148.9,510.4 L149.3,510.5 L149.6,510.6 L150.0,510.5 L150.3,510.5 L150.7,510.5 L151.0,510.5 L151.4,510.4 L151.7,510.5 L152.1,510.5 L152.4,510.6 L152.8,510.5 L153.1,510.3 L153.5,510.5 L153.8,510.7 L154.2,510.6 L154.5,510.6 L154.9,510.5 L155.2,510.5 L155.6,510.6 L155.9,510.4 L156.3,510.7 L156.6,510.7 L157.0,510.8 L157.3,510.5 L157.7,510.5 L158.0,510.8 L158.4,510.6 L158.7,510.6 L159.1,510.6 L159.4,510.7 L159.8,510.5 L160.1,510.7 L160.5,510.8 L160.8,510.8 L161.2,510.5 L161.5,510.8 L161.9,510.7 L162.2,510.7 L162.6,510.8 L162.9,510.7 L163.3,510.9 L163.6,510.7 L164.0,510.8 L164.3,510.7 L164.7,510.9 L165.0,511.0 L165.4,511.0 L165.7,510.7 L166.1,510.9 L166.4,511.0 L166.8,510.8 L167.1,510.9 L167.5,511.0 L167.8,511.0 L168.2,510.9 L168.5,511.0 L168.9,511.0 L169.2,510.9 L169.6,511.0 L169.9,511.0 L170.3,511.1 L170.6,511.0 L171.0,510.9 L171.3,511.0 L171.7,511.2 L172.0,510.9 L172.4,510.9 L172.7,510.9 L173.1,511.2 L173.4,511.2 L173.8,511.0 L174.1,511.0 L174.5,511.0 L174.8,511.1 L175.2,511.1 L175.5,511.2 L175.9,511.0 L176.2,511.3 L176.6,511.1 L176.9,511.2 L177.3,511.3 L177.6,511.3 L178.0,511.2 L178.3,511.2 L178.7,511.2 L179.0,511.1 L179.4,511.2 L179.7,511.3 L180.1,511.3 L180.4,511.0 L180.8,511.3 L181.1,511.1 L181.5,511.1 L181.8,511.1 L182.2,511.3 L182.5,511.4 L182.9,511.2 L183.2,511.2 L183.6,511.3 L183.9,511.4 L184.3,511.3 L184.6,511.1 L185.0,511.2 L185.3,511.4 L185.7,511.3 L186.0,511.3 L186.4,511.4 L186.7,511.3 L187.1,511.4 L187.4,511.3 L187.8,511.2 L188.1,511.2 L188.5,511.5 L188.8,511.1 L189.2,511.4 L189.5,511.4 L189.9,511.2 L190.2,511.1 L190.6,511.3 L190.9,511.2 L191.3,511.3 L191.6,511.3 L192.0,511.5 L192.3,511.2 L192.7,511.5 L193.0,511.1 L193.4,511.5 L193.7,511.2 L194.1,511.4 L194.4,511.1 L194.8,511.3 L195.1,511.4 L195.5,511.3 L195.8,511.4 L196.2,511.2 L196.5,511.3 L196.9,511.3 L197.2,511.1 L197.6,511.4 L197.9,511.3 L198.3,511.2 L198.6,511.2 L199.0,511.4 L199.3,511.1 L199.7,511.2 L200.0,511.2 L200.4,511.2 L200.7,511.4 L201.1,511.3 L201.4,511.4 L201.8,511.4 L202.1,511.2 L202.5,511.2 L202.8,511.2 L203.2,511.2 L203.5,511.3 L203.9,511.4 L204.2,511.2 L204.6,511.2 L204.9,511.4 L205.3,511.5 L205.6,511.1 L206.0,511.1 L206.3,511.4 L206.7,511.3 L207.0,511.3 L207.4,511.3 L207.7,511.4 L208.1,511.1 L208.4,511.5 L208.8,511.5 L209.1,511.3 L209.5,511.3 L209.8,511.2 L210.2,511.3 L210.5,511.2 L210.9,511.3 L211.2,511.4 L211.6,511.3 L211.9,511.4 L212.3,511.2 L212.6,511.4 L213.0,511.2 L213.3,511.2 L213.7,511.4 L214.0,511.2 L214.4,511.2 L214.7,511.1 L215.1,511.4 L215.4,511.1 L215.8,511.1 L216.1,511.5 L216.5,511.4 L216.8,511.3 L217.2,511.2 L217.5,511.4 L217.9,511.4 L218.2,511.4 L218.6,511.3 L218.9,511.3 L219.3,511.5 L219.6,511.3 L220.0,511.1 L220.3,511.1 L220.7,511.3 L221.0,511.4 L221.4,511.3 L221.7,511.4 L222.1,511.2 L222.4,511.3 L222.8,511.2 L223.1,511.3 L223.5,511.2 L223.8,511.4 L224.2,511.2 L224.5,511.2 L224.9,511.4 L225.2,511.3 L225.6,511.2 L225.9,511.5 L226.3,511.4 L226.6,511.2 L227.0,511.2 L227.3,511.3 L227.7,511.3 L228.0,511.2 L228.4,511.3 L228.7,511.4 L229.1,511.4 L229.4,511.2 L229.8,511.4 L230.1,511.1 L230.5,511.1 L230.8,511.1 L231.2,511.2 L231.5,511.4 L231.9,511.3 L232.2,511.3 L232.6,511.3 L232.9,511.2 L233.3,511.1 L233.6,511.2 L234.0,511.4 L234.3,511.2 L234.7,511.3 L235.0,511.2 L235.4,511.4 L235.7,511.4 L236.1,511.3 L236.4,511.3 L236.8,511.3 L237.1,511.3 L237.5,511.3 L237.8,511.3 L238.2,511.4 L238.5,511.5 L238.9,511.1 L239.2,511.3 L239.6,511.1 L239.9,511.3 L240.3,511.4 L240.6,511.4 L241.0,511.3 L241.3,511.1 L241.7,511.4 L242.0,511.3 L242.4,511.2 L242.7,511.4 L243.1,511.1 L243.4,511.2 L243.8,511.4 L244.1,511.1 L244.5,511.2 L244.8,511.3 L245.2,511.4 L245.5,511.3 L245.9,511.1 L246.2,511.2 L246.6,511.4 L246.9,511.2 L247.3,511.2 L247.6,511.1 L248.0,511.2 L248.3,511.5 L248.7,511.1 L249.0,511.3 L249.4,511.4 L249.7,511.4 L250.1,511.2 L250.4,511.3 L250.8,511.1 L251.1,511.2 L251.4,511.1 L251.8,511.3 L252.1,511.3 L252.5,511.3 L252.8,511.1 L253.2,511.2 L253.5,511.2 L253.9,511.0 L254.2,511.0 L254.6,510.8 L254.9,510.8 L255.3,511.0 L255.6,510.7 L256.0,510.8 L256.3,510.6 L256.7,510.8 L257.0,510.8 L257.4,510.8 L257.7,510.5 L258.1,510.5 L258.4,510.4 L258.8,510.5 L259.1,510.5 L259.5,510.2 L259.8,510.2 L260.1,510.0 L260.5,510.0 L260.8,510.2 L261.2,510.2 L261.5,510.1 L261.9,509.7 L262.2,509.8 L262.6,509.9 L262.9,509.7 L263.3,509.5 L263.6,509.6 L263.9,509.6 L264.3,509.2 L264.6,509.2 L264.9,509.0 L265.3,508.9 L265.6,508.9 L265.9,508.7 L266.2,508.8 L266.6,508.5 L266.9,508.3 L267.2,508.3 L267.5,508.0 L267.8,507.8 L268.1,508.0 L268.4,507.5 L268.7,507.3 L269.0,507.3 L269.3,506.9 L269.6,507.0 L269.9,506.6 L270.2,506.3 L270.5,506.5 L270.8,506.1 L271.1,506.1 L271.4,505.9 L271.6,505.6 L271.9,505.1 L272.2,505.1 L272.5,504.6 L272.7,504.4 L273.0,504.5 L273.2,504.1 L273.5,504.0 L273.8,503.7 L274.0,503.6 L274.3,503.3 L274.5,503.1 L274.8,502.7 L275.0,502.6 L275.2,502.3 L275.5,502.0 L275.7,501.7 L276.0,501.4 L276.2,501.2 L276.4,500.8 L276.7,500.6 L276.9,500.4 L277.1,500.0 L277.3,499.7 L277.6,499.4 L277.8,499.4 L278.0,499.2 L278.2,498.9 L278.5,498.5 L278.7,498.2 L278.9,497.7 L279.1,497.8 L279.3,497.3 L279.5,497.1 L279.7,496.6 L279.9,496.6 L280.1,496.1 L280.4,496.1 L280.6,495.7 L280.8,495.4 L281.0,495.2 L281.2,494.7 L281.4,494.5 L281.6,494.0 L281.8,493.8 L281.9,493.5 L282.1,493.2 L282.3,493.0 L282.5,492.6 L282.7,492.3 L282.9,492.1 L283.1,492.1 L283.3,491.7 L283.5,491.2 L283.6,490.8 L283.8,490.5 L284.0,490.3 L284.2,490.1 L284.4,489.9 L284.5,489.5 L284.7,489.3 L284.9,489.0 L285.1,488.7 L285.2,488.2 L285.4,487.9 L285.6,487.5 L285.8,487.4 L285.9,486.8 L286.1,486.7 L286.3,486.3 L286.4,486.1 L286.6,485.6 L286.7,485.3 L286.9,485.1 L287.1,484.8 L287.2,484.6 L287.4,484.1 L287.5,483.9 L287.7,483.5 L287.8,483.1 L288.0,482.9 L288.1,482.8 L288.3,482.3 L288.4,482.1 L288.6,481.9 L288.7,481.2 L288.9,480.9 L289.0,480.6 L289.2,480.5 L289.3,480.1 L289.4,479.8 L289.6,479.3 L289.7,479.0 L289.9,478.7 L290.0,478.6 L290.2,478.3 L290.3,477.8 L290.4,477.8 L290.6,477.0 L290.7,476.7 L290.9,476.5 L291.0,476.4 L291.2,476.2 L291.3,475.7 L291.5,475.1 L291.6,475.1 L291.8,474.4 L291.9,474.6 L292.1,474.0 L292.2,473.5 L292.4,473.3 L292.6,473.3 L292.7,473.0 L292.9,472.3 L293.0,472.5 L293.2,472.1 L293.4,471.5 L293.5,471.0 L293.7,470.8 L293.9,470.6 L294.0,470.2 L294.2,469.9 L294.4,469.6 L294.6,469.7 L294.7,468.9 L294.9,469.1 L295.1,468.5 L295.2,468.4 L295.4,467.9 L295.6,467.9 L295.8,467.1 L296.0,466.9 L296.1,466.7 L296.3,466.4 L296.5,466.0 L296.7,465.7 L296.9,465.3 L297.0,465.2 L297.2,465.1 L297.4,464.8 L297.6,464.3 L297.8,464.3 L297.9,464.0 L298.1,463.3 L298.3,462.9 L298.5,463.0 L298.7,462.8 L298.9,462.3 L299.0,462.2 L299.2,461.6 L299.4,461.3 L299.6,460.8 L299.8,460.7 L300.0,460.7 L300.1,459.9 L300.3,459.6 L300.5,459.3 L300.7,459.2 L300.9,459.0 L301.1,458.7 L301.3,458.6 L301.5,458.2 L301.6,457.8 L301.8,457.5 L302.0,457.2 L302.2,456.6 L302.4,456.3 L302.6,456.4 L302.8,455.8 L303.0,455.7 L303.2,455.5 L303.4,455.2 L303.6,454.7 L303.8,454.4 L304.0,454.1 L304.2,454.1 L304.4,453.8 L304.6,453.2 L304.8,453.0 L305.0,452.7 L305.2,452.7 L305.5,452.2 L305.7,452.3 L305.9,451.6 L306.1,451.6 L306.3,451.3 L306.6,451.3 L306.8,450.8 L307.0,450.7 L307.3,450.2 L307.5,449.6 L307.7,449.5 L308.0,449.6 L308.2,449.0 L308.4,449.0 L308.7,448.4 L308.9,448.5 L309.2,448.1 L309.4,448.2 L309.7,447.4 L309.9,447.3 L310.2,447.3 L310.5,446.9 L310.7,446.7 L311.0,446.4 L311.2,446.0 L311.5,445.9 L311.8,446.1 L312.1,445.8 L312.3,445.3 L312.6,445.3 L312.9,445.2 L313.2,445.0 L313.5,444.3 L313.7,444.1 L314.0,444.5 L314.3,443.8 L314.6,444.0 L314.9,443.7 L315.2,443.6 L315.5,442.9 L315.8,443.3 L316.1,443.1 L316.4,442.5 L316.7,442.6 L317.0,441.9 L317.3,442.3 L317.6,441.8 L317.9,441.8 L318.2,441.7 L318.5,441.0 L318.8,441.4 L319.1,440.7 L319.4,440.5 L319.7,440.5 L320.0,440.2 L320.3,440.3 L320.6,439.9 L320.9,440.0 L321.2,439.9 L321.5,439.9 L321.8,439.4 L322.1,439.2 L322.5,439.3 L322.8,439.2 L323.1,439.3 L323.5,438.9 L323.8,438.7 L324.1,438.5 L324.5,438.7 L324.8,438.6 L325.1,438.1 L325.5,438.2 L325.8,438.0 L326.1,438.1 L326.5,437.9 L326.8,437.7 L327.2,437.9 L327.5,437.9 L327.8,437.5 L328.2,437.8 L328.5,437.2 L328.9,437.1 L329.2,437.5 L329.5,437.3 L329.9,437.3 L330.2,437.4 L330.6,437.0 L330.9,437.1 L331.2,437.0 L331.6,436.8 L331.9,436.7 L332.3,437.0 L332.6,436.5 L333.0,436.5 L333.3,436.4 L333.6,436.5 L334.0,436.0 L334.3,436.4 L334.7,435.9 L335.0,436.1 L335.4,436.1 L335.7,436.1 L336.1,436.0 L336.4,436.0 L336.8,435.5 L337.1,435.7 L337.4,435.9 L337.8,435.6 L338.1,435.9 L338.5,435.6 L338.8,435.6 L339.2,435.6 L339.5,435.8 L339.9,435.0 L340.2,435.0 L340.6,435.0 L340.9,435.0 L341.2,434.8 L341.6,435.4 L341.9,434.8 L342.3,435.0 L342.6,435.2 L343.0,434.9 L343.3,434.6 L343.7,434.6 L344.0,434.6 L344.4,434.5 L344.7,434.6 L345.0,434.5 L345.4,434.2 L345.7,434.7 L346.1,434.7 L346.4,434.3 L346.8,433.9 L347.1,434.4 L347.5,434.0 L347.8,433.9 L348.1,433.7 L348.5,434.1 L348.8,433.9 L349.2,433.6 L349.5,433.5 L349.8,433.5 L350.2,433.4 L350.5,433.5 L350.9,433.6 L351.2,432.9 L351.6,433.4 L351.9,433.3 L352.2,432.8 L352.6,433.2 L352.9,433.1 L353.3,432.9 L353.6,432.4 L353.9,432.5 L354.3,432.6 L354.6,432.4 L354.9,432.0 L355.3,432.4 L355.6,432.0 L355.9,431.8 L356.3,431.8 L356.6,431.5 L357.0,431.6 L357.3,431.2 L357.6,431.8 L358.0,431.1 L358.3,431.1 L358.6,431.0 L359.0,431.0 L359.3,430.8 L359.6,431.1 L360.0,430.5 L360.3,431.0 L360.6,430.4 L361.0,430.7 L361.3,430.1 L361.6,429.8 L361.9,430.3 L362.3,429.7 L362.6,430.0 L362.9,430.0 L363.3,429.4 L363.6,429.3 L363.9,429.4 L364.2,429.5 L364.6,429.3 L364.9,428.9 L365.2,428.9 L365.6,428.9 L365.9,428.3 L366.2,428.8 L366.5,428.6 L366.9,428.0 L367.2,428.1 L367.5,428.1 L367.8,427.9 L368.1,427.3 L368.5,427.2 L368.8,427.2 L369.1,426.9 L369.4,427.1 L369.8,427.1 L370.1,426.9 L370.4,427.0 L370.7,426.5 L371.0,426.3 L371.3,426.0 L371.7,426.4 L372.0,426.1 L372.3,426.2 L372.6,426.0 L372.9,425.2 L373.2,425.4 L373.6,425.2 L373.9,425.2 L374.2,424.5 L374.5,424.8 L374.8,424.6 L375.1,424.3 L375.4,424.0 L375.8,424.2 L376.1,423.6 L376.4,423.7 L376.7,423.3 L377.0,423.3 L377.3,423.1 L377.6,423.2 L377.9,423.1 L378.2,423.0 L378.6,422.6 L378.9,422.7 L379.2,422.4 L379.5,422.2 L379.8,422.2 L380.1,422.2 L380.4,421.6 L380.7,421.8 L381.0,421.4 L381.3,421.1 L381.6,421.0 L382.0,420.9 L382.3,420.5 L382.6,420.8 L382.9,420.2 L383.2,420.2 L383.5,420.2 L383.8,420.0 L384.1,419.7 L384.4,419.6 L384.7,419.4 L385.0,419.1 L385.3,418.8 L385.5,419.0 L385.8,418.2 L386.1,418.0 L386.4,417.9 L386.7,417.7 L387.0,418.0 L387.3,417.5 L387.5,417.6 L387.8,417.1 L388.1,416.6 L388.4,416.9 L388.7,416.7 L388.9,415.9 L389.2,416.2 L389.5,415.8 L389.8,415.3 L390.0,415.2 L390.3,415.3 L390.6,414.7 L390.9,414.8 L391.1,414.5 L391.4,414.3 L391.7,413.8 L391.9,414.1 L392.2,413.6 L392.5,413.5 L392.7,413.2 L393.0,412.7 L393.3,412.9 L393.6,412.4 L393.8,412.6 L394.1,412.0 L394.4,411.5 L394.6,411.5 L394.9,411.2 L395.2,411.5 L395.5,410.7 L395.7,411.0 L396.0,410.0 L396.3,409.9 L396.5,409.8 L396.8,410.0 L397.1,409.6 L397.4,409.3 L397.6,409.0 L397.9,409.2 L398.2,408.4 L398.4,408.7 L398.7,408.1 L399.0,408.2 L399.3,408.1 L399.5,407.5 L399.8,407.1 L400.1,406.9 L400.3,406.7 L400.6,406.4 L400.9,406.4 L401.2,406.4 L401.4,405.9 L401.7,406.2 L402.0,405.9 L402.2,405.6 L402.5,405.4 L402.8,404.8 L403.1,404.9 L403.3,404.1 L403.6,403.8 L403.9,403.7 L404.1,403.7 L404.4,403.8 L404.7,403.0 L405.0,403.0 L405.2,403.0 L405.5,403.0 L405.8,402.5 L406.0,402.0 L406.3,401.7 L406.6,401.8 L406.9,401.8 L407.1,401.6 L407.4,401.2 L407.7,400.6 L407.9,400.3 L408.2,400.1 L408.5,400.1 L408.7,400.1 L409.0,399.5 L409.3,399.7 L409.5,399.2 L409.8,399.4 L410.1,398.9 L410.3,398.9 L410.6,398.2 L410.9,398.3 L411.1,398.3 L411.4,397.3 L411.6,397.9 L411.9,397.3 L412.2,397.5 L412.4,396.6 L412.7,396.5 L412.9,396.5 L413.2,396.2 L413.4,395.9 L413.7,395.9 L413.9,395.0 L414.2,395.3 L414.4,394.8 L414.7,395.0 L414.9,394.8 L415.2,394.1 L415.4,393.7 L415.7,394.0 L415.9,393.8 L416.2,393.4 L416.4,393.2 L416.6,393.0 L416.9,392.4 L417.1,392.0 L417.4,391.5 L417.6,391.6 L417.9,391.1 L418.1,391.3 L418.4,391.0 L418.6,391.0 L418.9,390.5 L419.1,389.9 L419.3,389.8 L419.6,389.6 L419.8,389.4 L420.1,389.5 L420.3,389.0 L420.6,388.5 L420.8,388.2 L421.1,388.2 L421.3,387.5 L421.6,387.6 L421.8,387.7 L422.1,387.5 L422.3,386.9 L422.6,386.7 L422.8,386.2 L423.1,386.2 L423.3,385.9 L423.5,385.8 L423.8,385.8 L424.0,385.4 L424.3,384.6 L424.5,384.4 L424.8,384.6 L425.0,384.6 L425.3,384.0 L425.5,384.0 L425.8,383.2 L426.0,382.9 L426.3,383.4 L426.5,383.0 L426.8,382.4 L427.0,382.5 L427.3,382.1 L427.5,382.0 L427.8,381.5 L428.0,381.4 L428.3,381.4 L428.5,380.6 L428.7,380.7 L429.0,380.6 L429.2,379.5 L429.5,379.5 L429.7,379.3 L430.0,379.3 L430.2,378.9 L430.5,379.1 L430.7,378.2 L431.0,378.0 L431.2,377.6 L431.5,377.4 L431.7,377.6 L432.0,376.8 L432.2,377.4 L432.5,377.0 L432.7,376.1 L433.0,376.5 L433.2,375.6 L433.4,375.8 L433.7,375.2 L433.9,374.9 L434.2,375.0 L434.4,375.1 L434.7,374.1 L434.9,374.0 L435.2,374.0 L435.4,374.2 L435.7,373.4 L435.9,373.6 L436.2,373.1 L436.4,372.7 L436.7,372.8 L436.9,372.0 L437.2,372.1 L437.4,371.3 L437.6,371.6 L437.9,371.8 L438.1,370.6 L438.4,370.4 L438.6,370.6 L438.9,370.7 L439.1,370.1 L439.4,370.3 L439.6,369.4 L439.9,369.8 L440.1,368.8 L440.4,369.1 L440.6,368.4 L440.9,368.6 L441.1,367.6 L441.4,367.6 L441.6,368.0 L441.8,367.6 L442.1,367.1 L442.3,366.7 L442.6,367.0 L442.8,366.0 L443.1,365.8 L443.3,365.4 L443.6,365.8 L443.8,365.8 L444.1,364.7 L444.3,365.1 L444.6,364.9 L444.8,364.1 L445.1,364.2 L445.3,364.0 L445.6,363.2 L445.9,363.9 L446.1,362.8 L446.4,362.6 L446.6,362.9 L446.9,362.4 L447.1,362.5 L447.4,362.1 L447.6,361.3 L447.9,361.4 L448.1,361.7 L448.4,360.8 L448.6,360.4 L448.9,360.9 L449.2,359.8 L449.4,359.9 L449.7,360.3 L449.9,359.9 L450.2,358.9 L450.5,358.7 L450.7,358.8 L451.0,358.8 L451.2,358.7 L451.5,357.9 L451.8,357.9 L452.0,357.7 L452.3,357.3 L452.6,357.5 L452.9,357.1 L453.1,356.8 L453.4,356.9 L453.7,356.2 L454.0,356.3 L454.3,356.3 L454.5,355.6 L454.8,355.1 L455.1,354.9 L455.4,355.5 L455.7,355.3 L456.0,355.0 L456.3,354.1 L456.6,354.2 L456.9,354.7 L457.2,354.1 L457.5,353.8 L457.8,354.2 L458.1,354.0 L458.4,353.1 L458.7,353.4 L459.0,353.4 L459.3,353.3 L459.6,353.2 L459.9,352.9 L460.2,352.0 L460.6,352.1 L460.9,351.9 L461.2,352.2 L461.5,352.0 L461.9,352.3 L462.2,351.4 L462.5,351.2 L462.9,351.0 L463.2,351.0 L463.5,351.7 L463.9,351.3 L464.2,350.8 L464.5,351.0 L464.9,351.0 L465.2,350.6 L465.5,350.1 L465.9,350.8 L466.2,350.6 L466.6,350.0 L466.9,350.3 L467.2,349.9 L467.6,350.1 L467.9,350.3 L468.3,350.1 L468.6,349.8 L469.0,350.2 L469.3,349.6 L469.6,349.9 L470.0,349.5 L470.3,349.8 L470.7,349.7 L471.0,349.7 L471.4,349.9 L471.7,349.8 L472.1,349.9 L472.4,349.1 L472.8,349.9 L473.1,349.5 L473.5,348.9 L473.8,348.7 L474.2,348.9 L474.5,349.1 L474.9,349.3 L475.2,349.5 L475.6,349.5 L475.9,349.5 L476.2,349.4 L476.6,349.4 L476.9,349.5 L477.3,349.2 L477.6,348.5 L478.0,348.9 L478.3,348.7 L478.7,348.9 L479.0,348.5 L479.4,349.1 L479.7,348.4 L480.1,348.5 L480.4,348.2 L480.8,349.0 L481.1,348.9 L481.5,348.9 L481.8,348.1 L482.2,348.2 L482.5,348.8 L482.9,348.7 L483.2,347.8 L483.6,348.2 L483.9,347.7 L484.2,348.5 L484.6,348.4 L484.9,348.5 L485.3,348.3 L485.6,347.8 L486.0,347.7 L486.3,348.0 L486.7,347.7 L487.0,348.2 L487.4,347.6 L487.7,347.6 L488.1,348.1 L488.4,347.3 L488.8,347.3 L489.1,347.0 L489.5,347.9 L489.8,347.4 L490.1,347.3 L490.5,347.7 L490.8,347.7 L491.2,346.9 L491.5,346.8 L491.9,347.5 L492.2,347.6 L492.6,347.1 L492.9,347.2 L493.3,346.4 L493.6,346.8 L494.0,346.3 L494.3,346.4 L494.6,346.2 L495.0,346.7 L495.3,346.7 L495.7,346.5 L496.0,346.8 L496.4,346.1 L496.7,346.2 L497.1,346.1 L497.4,346.4 L497.8,346.7 L498.1,346.0 L498.5,346.8 L498.8,346.2 L499.2,346.0 L499.5,346.1 L499.9,346.6 L500.2,345.8 L500.6,346.3 L500.9,346.1 L501.3,346.4 L501.6,346.3 L502.0,346.0 L502.3,346.1 L502.7,347.0 L503.0,346.6 L503.4,347.0 L503.7,347.1 L504.1,346.7 L504.4,347.1 L504.7,346.6 L505.1,346.6 L505.4,347.2 L505.8,346.7 L506.1,346.7 L506.4,347.1 L506.8,347.1 L507.1,347.8 L507.5,347.8 L507.8,347.7 L508.1,348.0 L508.5,347.4 L508.8,347.5 L509.1,347.7 L509.5,348.1 L509.8,347.6 L510.1,347.8 L510.5,348.1 L510.8,348.1 L511.1,348.4 L511.4,348.4 L511.7,348.7 L512.1,349.0 L512.4,349.3 L512.7,349.7 L513.0,349.3 L513.3,349.5 L513.6,350.2 L513.9,349.5 L514.2,350.2 L514.6,349.9 L514.9,350.0 L515.2,351.1 L515.5,351.0 L515.8,351.0 L516.1,351.5 L516.4,351.9 L516.7,351.6 L517.0,351.7 L517.3,351.4 L517.6,352.6 L517.9,352.6 L518.2,352.0 L518.5,352.6 L518.8,352.6 L519.1,353.5 L519.4,353.0 L519.7,353.0 L520.0,354.0 L520.3,353.6 L520.6,353.6 L520.9,353.7 L521.2,354.0 L521.4,354.5 L521.7,354.5 L522.0,355.1 L522.3,355.6 L522.6,355.0 L522.9,355.1 L523.2,356.0 L523.5,356.1 L523.8,356.5 L524.1,355.9 L524.4,356.7 L524.7,356.5 L525.0,356.5 L525.3,356.9 L525.6,357.6 L525.9,357.7 L526.2,357.9 L526.5,357.4 L526.8,357.8 L527.2,357.6 L527.5,357.8 L527.8,358.6 L528.1,358.0 L528.4,358.9 L528.8,359.1 L529.1,358.7 L529.4,358.9 L529.8,359.4 L530.1,359.3 L530.4,359.5 L530.8,359.5 L531.1,358.9 L531.4,359.7 L531.8,359.7 L532.1,359.4 L532.5,359.1 L532.8,359.5 L533.2,359.7 L533.5,359.5 L533.8,359.8 L534.2,359.6 L534.5,359.9 L534.9,360.1 L535.2,359.1 L535.5,359.7 L535.9,359.8 L536.2,359.0 L536.6,359.3 L536.9,359.6 L537.2,359.4 L537.6,359.0 L537.9,358.9 L538.3,358.5 L538.6,358.9 L538.9,359.1 L539.3,359.0 L539.6,358.8 L540.0,358.5 L540.3,358.1 L540.7,358.1 L541.0,357.9 L541.3,358.0 L541.7,357.5 L542.0,357.9 L542.4,358.2 L542.7,357.6 L543.1,358.1 L543.4,357.7 L543.7,357.9 L544.1,358.0 L544.4,357.0 L544.8,357.3 L545.1,357.0 L545.5,356.9 L545.8,357.4 L546.2,356.7 L546.5,357.2 L546.8,357.5 L547.2,357.0 L547.5,357.2 L547.9,356.6 L548.2,357.3 L548.6,357.3 L548.9,357.1 L549.3,357.4 L549.6,357.0 L550.0,357.1 L550.3,356.5 L550.7,357.3 L551.0,356.9 L551.4,357.2 L551.7,357.1 L552.1,356.7 L552.4,357.1 L552.8,357.6 L553.1,357.3 L553.5,356.8 L553.8,357.3 L554.2,357.8 L554.5,356.9 L554.8,356.9 L555.2,357.9 L555.5,357.7 L555.8,358.0 L556.2,357.6 L556.5,358.0 L556.8,357.6 L557.2,357.7 L557.5,358.3 L557.8,358.7 L558.1,358.5 L558.5,358.1 L558.8,358.3 L559.1,359.2 L559.4,358.9 L559.8,358.9 L560.1,359.1 L560.4,359.9 L560.7,359.6 L561.0,359.4 L561.3,359.6 L561.7,359.6 L562.0,360.7 L562.3,360.3 L562.6,360.5 L562.9,360.2 L563.2,360.6 L563.6,361.3 L563.9,361.5 L564.2,361.2 L564.5,361.2 L564.8,362.1 L565.1,361.6 L565.5,361.7 L565.8,361.7 L566.1,362.2 L566.4,362.7 L566.7,362.5 L567.1,363.0 L567.4,362.6 L567.7,363.1 L568.0,362.7 L568.3,363.2 L568.7,363.2 L569.0,363.3 L569.3,363.9 L569.6,363.5 L570.0,363.9 L570.3,363.9 L570.6,364.6 L570.9,364.0 L571.3,364.3 L571.6,364.8 L571.9,364.5 L572.2,365.0 L572.6,365.4 L572.9,364.8 L573.3,365.1 L573.6,364.6 L573.9,365.5 L574.3,365.2 L574.6,365.5 L574.9,365.1 L575.3,365.6 L575.6,365.5 L576.0,366.0 L576.3,366.0 L576.7,365.6 L577.0,365.2 L577.3,365.4 L577.7,365.6 L578.0,365.8 L578.4,365.9 L578.7,365.8 L579.0,365.6 L579.4,365.2 L579.7,365.2 L580.0,364.8 L580.3,365.0 L580.7,364.7 L581.0,364.7 L581.3,364.0 L581.6,363.9 L581.9,364.3 L582.2,363.9 L582.5,363.5 L582.8,364.1 L583.1,363.0 L583.4,363.7 L583.7,363.4 L584.0,362.3 L584.3,363.0 L584.5,362.6 L584.8,361.9 L585.1,362.2 L585.3,362.2 L585.6,361.1 L585.9,361.1 L586.1,360.6 L586.4,361.2 L586.6,360.1 L586.8,359.9 L587.1,359.6 L587.3,360.1 L587.5,359.2 L587.7,359.7 L587.9,358.5 L588.2,358.6 L588.4,358.0 L588.6,357.8 L588.8,357.5 L589.0,357.6 L589.2,357.0 L589.3,356.8 L589.5,357.1 L589.7,356.5 L589.9,355.6 L590.1,355.5 L590.3,355.6 L590.4,355.0 L590.6,354.4 L590.8,354.1 L591.0,354.1 L591.1,354.1 L591.3,353.6 L591.5,353.0 L591.6,352.6 L591.8,352.5 L592.0,352.8 L592.1,351.6 L592.3,351.3 L592.5,351.0 L592.6,351.2 L592.8,350.3 L592.9,350.3 L593.1,350.0 L593.3,349.8 L593.4,349.5 L593.6,349.6 L593.7,348.7 L593.9,348.2 L594.0,348.6 L594.2,347.7 L594.3,347.3 L594.5,346.8 L594.6,347.5 L594.7,346.9 L594.9,346.5 L595.0,345.6 L595.2,346.1 L595.3,344.9 L595.5,345.3 L595.6,345.1 L595.7,344.4 L595.9,343.8 L596.0,344.3 L596.2,343.0 L596.3,342.9 L596.5,343.0 L596.6,342.7 L596.7,341.9 L596.9,341.6 L597.0,341.5 L597.2,341.8 L597.3,341.5 L597.5,340.2 L597.6,340.7 L597.8,339.9 L597.9,339.4 L598.1,339.3 L598.2,338.5 L598.4,339.0 L598.5,338.6 L598.7,337.8 L598.8,337.3 L599.0,337.7 L599.1,337.7 L599.3,336.4 L599.4,337.1 L599.6,336.3 L599.7,335.6 L599.9,335.9 L600.0,335.6 L600.2,334.8 L600.3,334.7 L600.5,334.0 L600.6,334.1 L600.8,333.3 L600.9,333.2 L601.1,333.4 L601.2,333.1 L601.4,332.6 L601.6,332.6 L601.7,332.1 L601.9,331.6 L602.0,331.4 L602.2,330.4 L602.3,330.0 L602.5,329.9 L602.7,330.2 L602.8,330.2 L603.0,329.0 L603.1,329.5 L603.3,329.1 L603.5,328.0 L603.6,328.1 L603.8,327.5 L603.9,327.7 L604.1,327.0 L604.3,326.7 L604.4,326.6 L604.6,326.0 L604.8,326.2 L604.9,325.7 L605.1,324.7 L605.3,325.0 L605.4,324.6 L605.6,324.9 L605.7,324.6 L605.9,323.2 L606.1,323.7 L606.2,323.2 L606.4,322.8 L606.6,322.0 L606.7,322.7 L606.9,322.0 L607.1,321.7 L607.2,321.8 L607.4,320.5 L607.6,320.5 L607.7,319.8 L607.9,319.8 L608.1,320.3 L608.2,319.3 L608.4,319.5 L608.6,319.2 L608.7,318.5 L608.9,318.6 L609.1,317.5 L609.3,317.0 L609.4,316.9 L609.6,316.5 L609.8,316.1 L609.9,315.8 L610.1,315.5 L610.3,315.3 L610.5,315.5 L610.7,314.9 L610.8,315.4 L611.0,314.7 L611.2,314.8 L611.4,314.2 L611.6,314.1 L611.8,313.9 L612.0,312.9 L612.2,312.5 L612.4,312.0 L612.6,312.8 L612.8,311.6 L613.0,312.2 L613.2,311.6 L613.4,311.5 L613.6,310.2 L613.8,311.0 L614.0,309.7 L614.2,310.4 L614.5,309.1 L614.7,310.0 L614.9,308.6 L615.1,308.5 L615.4,308.6 L615.6,307.9 L615.8,307.6 L616.1,307.7 L616.3,307.0 L616.5,307.4 L616.8,307.4 L617.0,306.8 L617.3,306.7 L617.5,306.0 L617.8,306.1 L618.0,306.0 L618.3,306.2 L618.6,305.4 L618.8,305.8 L619.1,304.8 L619.4,304.9 L619.7,304.8 L619.9,303.8 L620.2,304.5 L620.5,304.3 L620.8,303.2 L621.1,303.7 L621.4,303.2 L621.7,302.8 L622.0,302.6 L622.3,302.4 L622.6,303.2 L622.9,303.0 L623.3,302.7 L623.6,301.8 L623.9,302.4 L624.2,301.7 L624.6,301.9 L624.9,301.1 L625.2,302.2 L625.6,301.3 L625.9,301.7 L626.2,300.9 L626.6,300.9 L626.9,301.6 L627.2,301.4 L627.6,301.3 L627.9,300.9 L628.3,301.2 L628.6,301.5 L629.0,301.4 L629.3,301.3 L629.6,300.8 L630.0,300.8 L630.3,301.3 L630.7,300.5 L631.0,300.8 L631.4,300.3 L631.7,300.6 L632.1,300.3 L632.4,301.2 L632.8,301.2 L633.2,300.4 L633.5,301.0 L633.9,301.0 L634.2,301.1 L634.6,300.9 L634.9,300.2 L635.3,300.7 L635.6,300.2 L636.0,300.5 L636.3,299.9 L636.7,299.9 L637.0,301.1 L637.4,300.5 L637.7,300.5 L638.1,300.7 L638.4,299.9 L638.8,300.8 L639.1,300.9 L639.5,300.0 L639.8,301.1 L640.2,300.6 L640.5,300.7 L640.9,300.4 L641.2,300.1 L641.6,300.3 L641.9,300.3 L642.3,301.2 L642.6,301.0 L643.0,301.4 L643.3,300.4 L643.7,301.3 L644.0,301.1 L644.4,300.9 L644.7,301.3 L645.1,300.5 L645.4,301.4 L645.8,300.7 L646.1,301.1 L646.4,301.4 L646.8,300.8 L647.1,301.9 L647.5,300.7 L647.8,301.9 L648.2,302.1 L648.5,301.9 L648.9,301.4 L649.2,302.0 L649.6,301.8 L649.9,302.4 L650.3,302.0 L650.6,301.2 L651.0,301.9 L651.3,301.2 L651.6,301.9 L652.0,301.4 L652.3,301.9 L652.7,302.4 L653.0,301.3 L653.4,301.8 L653.7,301.4 L654.1,301.8 L654.4,301.9 L654.8,301.4 L655.1,301.8 L655.5,302.4 L655.8,302.1 L656.2,301.6 L656.5,302.0 L656.9,301.4 L657.2,301.6 L657.6,302.0 L657.9,301.6 L658.3,302.2 L658.6,301.6 L659.0,302.6 L659.3,302.7 L659.7,302.7 L660.0,302.6 L660.4,302.3 L660.7,302.7 L661.1,301.6 L661.4,301.5 L661.8,301.9 L662.1,302.9 L662.5,302.1 L662.8,302.3 L663.2,301.8 L663.5,302.3 L663.9,302.6 L664.2,302.3 L664.6,301.5 L664.9,302.0 L665.3,302.0 L665.6,301.6 L666.0,301.5 L666.3,302.5 L666.7,301.4 L667.0,301.8 L667.4,302.3 L667.7,302.5 L668.1,301.7 L668.4,301.4 L668.7,302.6 L669.1,302.2 L669.4,302.3 L669.8,302.1 L670.1,302.1 L670.5,301.1 L670.8,301.1 L671.2,302.2 L671.5,301.3 L671.9,301.7 L672.2,301.8 L672.5,301.4 L672.9,300.6 L673.2,301.3 L673.6,301.1 L673.9,300.7 L674.3,300.9 L674.6,301.0 L674.9,300.1 L675.3,300.5 L675.6,300.1 L676.0,300.5 L676.3,299.9 L676.7,300.2 L677.0,300.2 L677.3,299.6 L677.7,299.7 L678.0,300.1 L678.4,300.1 L678.7,300.5 L679.0,299.9 L679.4,299.8 L679.7,300.3 L680.1,300.3 L680.4,299.4 L680.7,299.3 L681.1,299.9 L681.4,298.9 L681.7,299.5 L682.1,298.4 L682.4,298.3 L682.8,298.4 L683.1,298.6 L683.4,298.3 L683.8,298.0 L684.1,297.7 L684.4,297.5 L684.8,298.8 L685.1,298.5 L685.4,298.4 L685.8,298.0 L686.1,297.8 L686.4,297.5 L686.8,297.8 L687.1,297.3 L687.4,297.9 L687.8,296.7 L688.1,297.0 L688.4,297.4 L688.8,297.0 L689.1,297.2 L689.4,297.1 L689.8,296.4 L690.1,296.3 L690.5,295.6 L690.8,296.1 L691.1,296.9 L691.5,295.3 L691.8,296.7 L692.1,296.5 L692.5,296.3 L692.8,295.1 L693.2,296.2 L693.5,296.4 L693.8,295.2 L694.2,294.8 L694.5,294.7 L694.9,294.8 L695.2,294.7 L695.5,294.3 L695.9,294.5 L696.2,294.7 L696.6,295.3 L696.9,295.6 L697.2,293.8 L697.6,295.3 L697.9,295.2 L698.3,295.3 L698.6,294.4 L698.9,294.1 L699.3,293.7 L699.6,293.8 L700.0,293.6 L700.3,293.6 L700.7,293.8 L701.0,293.1 L701.3,293.1 L701.7,293.6 L702.0,292.8 L702.4,294.2 L702.7,293.9 L703.1,293.0 L703.4,293.8 L703.7,294.1 L704.1,293.7 L704.4,292.8 L704.8,293.2 L705.1,293.4 L705.5,293.5 L705.8,292.6 L706.1,292.3 L706.5,292.5 L706.8,291.8 L707.2,293.2 L707.5,292.7 L707.8,292.4 L708.2,292.3 L708.5,293.0 L708.9,291.2 L709.2,292.7 L709.6,291.5 L709.9,291.8 L710.2,291.6 L710.6,291.3 L710.9,291.3 L711.3,291.6 L711.6,291.0 L712.0,290.8 L712.3,290.3 L712.6,290.8 L713.0,291.1 L713.3,290.2 L713.7,290.1 L714.0,291.6 L714.4,290.0 L714.7,290.1 L715.0,290.5 L715.4,291.1 L715.7,291.0 L716.1,290.8 L716.4,290.5 L716.8,290.5 L717.1,289.8 L717.5,291.0 L717.8,291.3 L718.2,291.5 L718.5,290.2 L718.9,290.5 L719.2,290.1 L719.5,291.0 L719.9,291.0 L720.2,290.0 L720.6,290.1 L720.9,291.4 L721.3,290.8 L721.6,290.0 L722.0,290.3 L722.3,290.5 L722.7,291.0 L723.0,291.2 L723.4,291.2 L723.7,289.9 L724.1,289.8 L724.4,290.9 L724.8,291.0 L725.1,289.8 L725.5,290.7 L725.8,291.2 L726.2,291.1 L726.5,291.3 L726.9,290.7 L727.2,290.5 L727.6,290.9 L727.9,291.1 L728.2,290.2 L728.6,291.1 L728.9,290.4 L729.2,291.6 L729.5,290.2 L729.8,291.2 L730.0,291.4 L730.3,291.2 L730.5,291.0 L730.7,291.4 L731.5,289.8"/>
</g>
<g stroke="#000" stroke-width="4" stroke-dasharray="18 14.8" fill="none" shape-rendering="crispEdges">
<line x1="534" y1="316" x2="534" y2="536"/>
<line x1="578" y1="317.3" x2="578" y2="536"/>
</g>
<line x1="510.3" y1="511.4" x2="522.2" y2="526.1" stroke="#000" stroke-width="2.8"/><polygon fill="#000" points="530.7,536.6 517.3,527.5 524.6,521.6"/>
<line x1="603.5" y1="507.0" x2="588.3" y2="527.2" stroke="#000" stroke-width="2.8"/><polygon fill="#000" points="580.2,538.0 585.7,522.8 593.3,528.5"/>
<g fill="none" stroke-width="8.4" stroke-linecap="round">
<line x1="103.1" y1="40.7" x2="167.9" y2="40.7" stroke="#000080"/>
<line x1="103.1" y1="76.45" x2="167.9" y2="76.45" stroke="#ff0000"/>
<line x1="103.1" y1="111.9" x2="167.9" y2="111.9" stroke="#b8005c"/>
</g>
<g font-size="29">
<text x="175" y="51">NZ0</text>
<text x="175" y="86.4">NZ1</text>
<text x="175" y="121.8">NZ3</text>
</g>
<g font-size="22.5" text-anchor="end">
<text x="65" y="528.7">0</text>
<text x="65" y="444.2">15</text>
<text x="65" y="359.7">30</text>
<text x="65" y="275.2">45</text>
<text x="65" y="190.7">60</text>
<text x="65" y="106.2">75</text>
<text x="65" y="21.7">90</text>
</g>
<g font-size="22.5" text-anchor="middle">
<text x="83.0" y="574">200</text>
<text x="191.2" y="574">300</text>
<text x="299.3" y="574">400</text>
<text x="407.5" y="574">500</text>
<text x="515.7" y="574">600</text>
<text x="623.8" y="574">700</text>
<text x="732.0" y="574">800</text>
</g>
<g font-size="23">
<text x="474.2" y="507.6">618</text>
<text x="605.2" y="504.2">656</text>
</g>
<text x="312.8" y="614" font-size="27.2" textLength="189" lengthAdjust="spacing">Wavelength (nm)</text>
<text transform="translate(31.2,363.3) rotate(-90)" font-size="27.2" textLength="175" lengthAdjust="spacing">Reflectance (%)</text>
</svg>
</body></html>
